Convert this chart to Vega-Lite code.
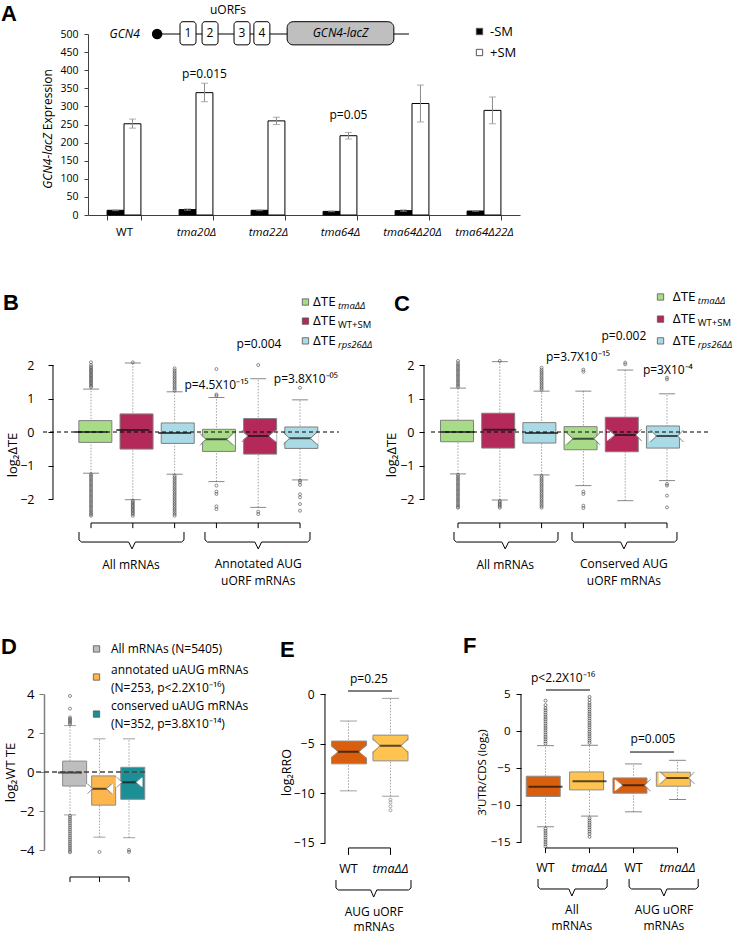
{
"$schema": "https://vega.github.io/schema/vega-lite/v6.json",
"padding": {"top": 2, "left": 0, "right": 0, "bottom": 0},
"background": "white",
"bounds": "flush",
"spacing": 150,
"resolve": {"scale": {"color": "independent"}, "legend": {"color": "independent"}},
"config": {
  "view": {"stroke": null},
  "font": "Open Sans",
  "axis": {"grid": false, "labelFont": "Open Sans", "titleFont": "Open Sans", "titleFontWeight": "normal", "labelColor": "#000", "titleColor": "#000", "domainColor": "#000", "tickColor": "#000", "labelOverlap": false},
  "text": {"font": "Open Sans", "color": "#000"}
},
"datasets": {
  "A": [
    {"strain":"WT","cond":"-SM","value":13,"lo":12,"hi":14},
    {"strain":"WT","cond":"+SM","value":252,"lo":240,"hi":265},
    {"strain":"tma20Δ","cond":"-SM","value":15,"lo":13,"hi":17},
    {"strain":"tma20Δ","cond":"+SM","value":338,"lo":313,"hi":364},
    {"strain":"tma22Δ","cond":"-SM","value":13,"lo":12,"hi":14},
    {"strain":"tma22Δ","cond":"+SM","value":260,"lo":250,"hi":270},
    {"strain":"tma64Δ","cond":"-SM","value":10,"lo":9,"hi":11},
    {"strain":"tma64Δ","cond":"+SM","value":219,"lo":210,"hi":228},
    {"strain":"tma64Δ20Δ","cond":"-SM","value":12,"lo":10,"hi":14},
    {"strain":"tma64Δ20Δ","cond":"+SM","value":308,"lo":257,"hi":359},
    {"strain":"tma64Δ22Δ","cond":"-SM","value":11,"lo":10,"hi":12},
    {"strain":"tma64Δ22Δ","cond":"+SM","value":289,"lo":252,"hi":326}
  ],
  "uorf": [
    {"feature":"1","start":21.3,"end":25.0,"mid":23.15},
    {"feature":"2","start":26.4,"end":30.1,"mid":28.25},
    {"feature":"3","start":33.8,"end":37.5,"mid":35.65},
    {"feature":"4","start":38.4,"end":42.1,"mid":40.25}
  ],
  "boxB": [
    {"x":1,"set":"tmaΔΔ","q1":-0.31,"med":0.0,"q3":0.34,"lo":-1.23,"hi":1.28,"notch":false},
    {"x":2,"set":"WT+SM","q1":-0.51,"med":0.06,"q3":0.54,"lo":-2.02,"hi":2.06,"notch":false},
    {"x":3,"set":"rps26ΔΔ","q1":-0.34,"med":-0.03,"q3":0.27,"lo":-1.26,"hi":1.2,"notch":false},
    {"x":4,"set":"tmaΔΔ","q1":-0.58,"med":-0.22,"q3":0.08,"lo":-1.48,"hi":1.03,"notch":true},
    {"x":5,"set":"WT+SM","q1":-0.66,"med":-0.12,"q3":0.40,"lo":-2.25,"hi":1.59,"notch":true},
    {"x":6,"set":"rps26ΔΔ","q1":-0.49,"med":-0.19,"q3":0.15,"lo":-1.43,"hi":0.96,"notch":true}
  ],
  "boxC": [
    {"x":1,"set":"tmaΔΔ","q1":-0.29,"med":0.0,"q3":0.35,"lo":-1.25,"hi":1.31,"notch":false},
    {"x":2,"set":"WT+SM","q1":-0.48,"med":0.07,"q3":0.56,"lo":-2.03,"hi":2.1,"notch":false},
    {"x":3,"set":"rps26ΔΔ","q1":-0.33,"med":-0.03,"q3":0.28,"lo":-1.28,"hi":1.22,"notch":false},
    {"x":4,"set":"tmaΔΔ","q1":-0.53,"med":-0.2,"q3":0.16,"lo":-1.6,"hi":1.22,"notch":true},
    {"x":5,"set":"WT+SM","q1":-0.59,"med":-0.09,"q3":0.44,"lo":-2.05,"hi":1.85,"notch":true},
    {"x":6,"set":"rps26ΔΔ","q1":-0.48,"med":-0.12,"q3":0.18,"lo":-1.45,"hi":1.14,"notch":true}
  ],
  "boxD": [
    {"x":1,"set":"All mRNAs","q1":-0.72,"med":-0.03,"q3":0.56,"lo":-2.2,"hi":2.38,"notch":false},
    {"x":2,"set":"annotated uAUG","q1":-1.7,"med":-0.86,"q3":-0.2,"lo":-3.34,"hi":1.7,"notch":true},
    {"x":3,"set":"conserved uAUG","q1":-1.4,"med":-0.53,"q3":0.24,"lo":-3.37,"hi":1.7,"notch":true}
  ],
  "boxE": [
    {"x":1,"cond":"WT","q1":-7.03,"med":-5.82,"q3":-4.74,"lo":-9.75,"hi":-2.72,"notch":true},
    {"x":2,"cond":"tmaΔΔ","q1":-6.73,"med":-5.21,"q3":-4.14,"lo":-10.29,"hi":-0.44,"notch":true}
  ],
  "boxF": [
    {"x":1,"cond":"WT","group":"All mRNAs","q1":-8.85,"med":-7.55,"q3":-6.11,"lo":-12.94,"hi":-1.98,"notch":false},
    {"x":2,"cond":"tmaΔΔ","group":"All mRNAs","q1":-7.96,"med":-6.79,"q3":-5.53,"lo":-11.5,"hi":-1.93,"notch":false},
    {"x":3,"cond":"WT","group":"AUG uORF mRNAs","q1":-8.4,"med":-7.33,"q3":-6.34,"lo":-10.92,"hi":-4.45,"notch":true},
    {"x":4,"cond":"tmaΔΔ","group":"AUG uORF mRNAs","q1":-7.46,"med":-6.34,"q3":-5.57,"lo":-9.26,"hi":-3.96,"notch":true}
  ],
  "outB": [
    {"x":1,"v":1.34},{"x":1,"v":1.38},{"x":1,"v":1.42},{"x":1,"v":1.46},{"x":1,"v":1.5},{"x":1,"v":1.54},{"x":1,"v":1.58},{"x":1,"v":1.62},{"x":1,"v":1.66},{"x":1,"v":1.7},{"x":1,"v":1.74},{"x":1,"v":1.78},{"x":1,"v":1.82},{"x":1,"v":1.86},{"x":1,"v":1.9},{"x":1,"v":1.94},{"x":1,"v":2.0},{"x":1,"v":2.08},
    {"x":1,"v":-1.26},{"x":1,"v":-1.31},{"x":1,"v":-1.36},{"x":1,"v":-1.41},{"x":1,"v":-1.46},{"x":1,"v":-1.51},{"x":1,"v":-1.56},{"x":1,"v":-1.61},{"x":1,"v":-1.66},{"x":1,"v":-1.71},{"x":1,"v":-1.76},{"x":1,"v":-1.81},{"x":1,"v":-1.86},{"x":1,"v":-1.91},{"x":1,"v":-1.96},{"x":1,"v":-2.01},{"x":1,"v":-2.06},{"x":1,"v":-2.11},{"x":1,"v":-2.16},{"x":1,"v":-2.21},{"x":1,"v":-2.26},{"x":1,"v":-2.31},{"x":1,"v":-2.36},{"x":1,"v":-2.41},{"x":1,"v":-2.46},{"x":1,"v":-2.5},
    {"x":2,"v":2.08},{"x":2,"v":-2.05},{"x":2,"v":-2.09},{"x":2,"v":-2.13},{"x":2,"v":-2.17},{"x":2,"v":-2.21},{"x":2,"v":-2.25},{"x":2,"v":-2.29},{"x":2,"v":-2.33},{"x":2,"v":-2.37},{"x":2,"v":-2.41},{"x":2,"v":-2.45},{"x":2,"v":-2.5},
    {"x":3,"v":1.24},{"x":3,"v":1.29},{"x":3,"v":1.34},{"x":3,"v":1.39},{"x":3,"v":1.44},{"x":3,"v":1.49},{"x":3,"v":1.54},{"x":3,"v":1.59},{"x":3,"v":1.64},{"x":3,"v":1.69},{"x":3,"v":1.74},{"x":3,"v":1.79},{"x":3,"v":1.84},{"x":3,"v":1.9},
    {"x":3,"v":-1.3},{"x":3,"v":-1.35},{"x":3,"v":-1.4},{"x":3,"v":-1.45},{"x":3,"v":-1.5},{"x":3,"v":-1.55},{"x":3,"v":-1.6},{"x":3,"v":-1.65},{"x":3,"v":-1.7},{"x":3,"v":-1.75},{"x":3,"v":-1.8},{"x":3,"v":-1.85},{"x":3,"v":-1.9},{"x":3,"v":-1.95},{"x":3,"v":-2.0},{"x":3,"v":-2.05},{"x":3,"v":-2.1},{"x":3,"v":-2.15},{"x":3,"v":-2.2},{"x":3,"v":-2.25},{"x":3,"v":-2.3},{"x":3,"v":-2.35},{"x":3,"v":-2.4},{"x":3,"v":-2.45},{"x":3,"v":-2.5},
    {"x":4,"v":1.88},{"x":4,"v":1.12},{"x":4,"v":1.08},{"x":4,"v":-1.6},{"x":4,"v":-1.78},{"x":4,"v":-1.85},{"x":4,"v":-2.22},{"x":4,"v":-2.3},
    {"x":5,"v":2.0},{"x":5,"v":-2.38},{"x":5,"v":-2.45},
    {"x":6,"v":1.32},{"x":6,"v":-1.45},{"x":6,"v":-1.5},{"x":6,"v":-1.58},{"x":6,"v":-1.86},{"x":6,"v":-1.95},{"x":6,"v":-2.15},{"x":6,"v":-2.35}
  ],
  "outC": [
    {"x":1,"v":1.35},{"x":1,"v":1.4},{"x":1,"v":1.45},{"x":1,"v":1.5},{"x":1,"v":1.55},{"x":1,"v":1.6},{"x":1,"v":1.65},{"x":1,"v":1.7},{"x":1,"v":1.75},{"x":1,"v":1.8},{"x":1,"v":1.85},{"x":1,"v":1.9},{"x":1,"v":1.95},{"x":1,"v":2.0},{"x":1,"v":2.05},{"x":1,"v":2.12},
    {"x":1,"v":-1.28},{"x":1,"v":-1.33},{"x":1,"v":-1.38},{"x":1,"v":-1.43},{"x":1,"v":-1.48},{"x":1,"v":-1.53},{"x":1,"v":-1.58},{"x":1,"v":-1.63},{"x":1,"v":-1.68},{"x":1,"v":-1.73},{"x":1,"v":-1.78},{"x":1,"v":-1.83},{"x":1,"v":-1.88},{"x":1,"v":-1.93},{"x":1,"v":-1.98},{"x":1,"v":-2.03},{"x":1,"v":-2.08},{"x":1,"v":-2.13},{"x":1,"v":-2.18},{"x":1,"v":-2.23},{"x":1,"v":-2.26},
    {"x":2,"v":2.12},{"x":2,"v":-2.06},{"x":2,"v":-2.1},{"x":2,"v":-2.14},{"x":2,"v":-2.18},{"x":2,"v":-2.22},{"x":2,"v":-2.26},
    {"x":3,"v":1.26},{"x":3,"v":1.31},{"x":3,"v":1.36},{"x":3,"v":1.41},{"x":3,"v":1.46},{"x":3,"v":1.51},{"x":3,"v":1.56},{"x":3,"v":1.61},{"x":3,"v":1.66},{"x":3,"v":1.71},{"x":3,"v":1.76},{"x":3,"v":1.81},{"x":3,"v":1.86},{"x":3,"v":1.92},
    {"x":3,"v":-1.31},{"x":3,"v":-1.36},{"x":3,"v":-1.41},{"x":3,"v":-1.46},{"x":3,"v":-1.51},{"x":3,"v":-1.56},{"x":3,"v":-1.61},{"x":3,"v":-1.66},{"x":3,"v":-1.71},{"x":3,"v":-1.76},{"x":3,"v":-1.81},{"x":3,"v":-1.86},{"x":3,"v":-1.91},{"x":3,"v":-1.96},{"x":3,"v":-2.01},{"x":3,"v":-2.06},{"x":3,"v":-2.11},{"x":3,"v":-2.16},{"x":3,"v":-2.21},{"x":3,"v":-2.26},
    {"x":4,"v":1.86},{"x":4,"v":1.8},{"x":4,"v":-1.78},{"x":4,"v":-1.85},{"x":4,"v":-2.2},{"x":4,"v":-2.27},
    {"x":5,"v":2.07},{"x":5,"v":2.02},
    {"x":6,"v":1.62},{"x":6,"v":1.57},{"x":6,"v":-1.55},{"x":6,"v":-1.6},{"x":6,"v":-1.9},{"x":6,"v":-2.25}
  ],
  "outD": [
    {"x":1,"v":2.45},{"x":1,"v":2.52},{"x":1,"v":2.59},{"x":1,"v":2.66},{"x":1,"v":2.73},{"x":1,"v":2.8},{"x":1,"v":3.25},{"x":1,"v":3.9},
    {"x":1,"v":-2.25},{"x":1,"v":-2.35},{"x":1,"v":-2.45},{"x":1,"v":-2.55},{"x":1,"v":-2.65},{"x":1,"v":-2.75},{"x":1,"v":-2.85},{"x":1,"v":-2.95},{"x":1,"v":-3.05},{"x":1,"v":-3.15},{"x":1,"v":-3.25},{"x":1,"v":-3.35},{"x":1,"v":-3.45},{"x":1,"v":-3.55},{"x":1,"v":-3.65},{"x":1,"v":-3.75},{"x":1,"v":-3.85},{"x":1,"v":-3.95},{"x":1,"v":-4.05},{"x":1,"v":-4.12},
    {"x":2,"v":-4.1},{"x":3,"v":-4.0},{"x":3,"v":-4.1}
  ],
  "outE": [
    {"x":2,"v":-10.63},{"x":2,"v":-10.93},{"x":2,"v":-11.3},{"x":2,"v":-11.7}
  ],
  "outF": [
    {"x":1,"v":-1.7},{"x":1,"v":-1.4},{"x":1,"v":-1.1},{"x":1,"v":-0.8},{"x":1,"v":-0.5},{"x":1,"v":-0.2},{"x":1,"v":0.1},{"x":1,"v":0.4},{"x":1,"v":0.7},{"x":1,"v":1.0},{"x":1,"v":1.3},{"x":1,"v":1.6},{"x":1,"v":1.9},{"x":1,"v":2.2},{"x":1,"v":2.5},{"x":1,"v":2.8},{"x":1,"v":3.1},{"x":1,"v":3.5},{"x":1,"v":4.1},
    {"x":1,"v":-13.2},{"x":1,"v":-13.5},{"x":1,"v":-13.8},{"x":1,"v":-14.1},{"x":1,"v":-14.4},{"x":1,"v":-14.7},{"x":1,"v":-15.0},{"x":1,"v":-15.3},{"x":1,"v":-15.6},
    {"x":2,"v":-1.6},{"x":2,"v":-1.3},{"x":2,"v":-1.0},{"x":2,"v":-0.7},{"x":2,"v":-0.4},{"x":2,"v":-0.1},{"x":2,"v":0.2},{"x":2,"v":0.5},{"x":2,"v":0.8},{"x":2,"v":1.1},{"x":2,"v":1.4},{"x":2,"v":1.7},{"x":2,"v":2.0},{"x":2,"v":2.3},{"x":2,"v":2.6},{"x":2,"v":2.9},{"x":2,"v":3.2},{"x":2,"v":3.5},{"x":2,"v":3.8},{"x":2,"v":4.2},{"x":2,"v":4.6},
    {"x":2,"v":-11.8},{"x":2,"v":-12.1},{"x":2,"v":-12.4},{"x":2,"v":-12.7},{"x":2,"v":-13.0},{"x":2,"v":-13.3},{"x":2,"v":-13.6},{"x":2,"v":-13.9},{"x":2,"v":-14.3}
  ],
  "brB": [
    {"b":1,"o":1,"x":0.712,"y":-2.985},{"b":1,"o":2,"x":0.712,"y":-3.22},{"b":1,"o":3,"x":0.77,"y":-3.284},{"b":1,"o":4,"x":1.9,"y":-3.284},{"b":1,"o":5,"x":1.98,"y":-3.49},{"b":1,"o":6,"x":2.06,"y":-3.284},{"b":1,"o":7,"x":3.166,"y":-3.284},{"b":1,"o":8,"x":3.224,"y":-3.22},{"b":1,"o":9,"x":3.224,"y":-2.985},
    {"b":2,"o":1,"x":3.726,"y":-2.985},{"b":2,"o":2,"x":3.726,"y":-3.22},{"b":2,"o":3,"x":3.784,"y":-3.284},{"b":2,"o":4,"x":4.92,"y":-3.284},{"b":2,"o":5,"x":5.0,"y":-3.49},{"b":2,"o":6,"x":5.08,"y":-3.284},{"b":2,"o":7,"x":6.18,"y":-3.284},{"b":2,"o":8,"x":6.238,"y":-3.22},{"b":2,"o":9,"x":6.238,"y":-2.985}
  ],
  "brC": [
    {"b":1,"o":1,"x":0.904,"y":-2.985},{"b":1,"o":2,"x":0.904,"y":-3.22},{"b":1,"o":3,"x":0.962,"y":-3.284},{"b":1,"o":4,"x":2.05,"y":-3.284},{"b":1,"o":5,"x":2.13,"y":-3.49},{"b":1,"o":6,"x":2.21,"y":-3.284},{"b":1,"o":7,"x":3.334,"y":-3.284},{"b":1,"o":8,"x":3.392,"y":-3.22},{"b":1,"o":9,"x":3.392,"y":-2.985},
    {"b":2,"o":1,"x":3.727,"y":-2.985},{"b":2,"o":2,"x":3.727,"y":-3.22},{"b":2,"o":3,"x":3.785,"y":-3.284},{"b":2,"o":4,"x":4.89,"y":-3.284},{"b":2,"o":5,"x":4.97,"y":-3.49},{"b":2,"o":6,"x":5.05,"y":-3.284},{"b":2,"o":7,"x":6.181,"y":-3.284},{"b":2,"o":8,"x":6.239,"y":-3.22},{"b":2,"o":9,"x":6.239,"y":-2.985}
  ],
  "brE": [
    {"b":1,"o":1,"x":0.702,"y":-18.73},{"b":1,"o":2,"x":0.702,"y":-19.53},{"b":1,"o":3,"x":0.76,"y":-19.73},{"b":1,"o":4,"x":1.527,"y":-19.73},{"b":1,"o":5,"x":1.6,"y":-20.44},{"b":1,"o":6,"x":1.673,"y":-19.73},{"b":1,"o":7,"x":2.43,"y":-19.73},{"b":1,"o":8,"x":2.488,"y":-19.53},{"b":1,"o":9,"x":2.488,"y":-18.73}
  ],
  "brF": [
    {"b":1,"o":1,"x":0.83,"y":-20.0},{"b":1,"o":2,"x":0.83,"y":-21.08},{"b":1,"o":3,"x":0.885,"y":-21.35},{"b":1,"o":4,"x":1.53,"y":-21.35},{"b":1,"o":5,"x":1.6,"y":-22.3},{"b":1,"o":6,"x":1.67,"y":-21.35},{"b":1,"o":7,"x":2.345,"y":-21.35},{"b":1,"o":8,"x":2.4,"y":-21.08},{"b":1,"o":9,"x":2.4,"y":-20.0},
    {"b":2,"o":1,"x":2.9,"y":-20.0},{"b":2,"o":2,"x":2.9,"y":-21.08},{"b":2,"o":3,"x":2.955,"y":-21.35},{"b":2,"o":4,"x":3.62,"y":-21.35},{"b":2,"o":5,"x":3.69,"y":-22.3},{"b":2,"o":6,"x":3.76,"y":-21.35},{"b":2,"o":7,"x":4.415,"y":-21.35},{"b":2,"o":8,"x":4.47,"y":-21.08},{"b":2,"o":9,"x":4.47,"y":-20.0}
  ]
},
"vconcat": [
 {"width": 690, "height": 181,
  "resolve": {"scale": {"x": "independent", "y": "independent", "xOffset": "independent"}, "axis": {"x": "independent", "y": "independent"}},
  "layer": [
   {"data": {"name": "A"}, "mark": {"type": "bar", "stroke": "#000", "strokeWidth": 1},
    "encoding": {
     "x": {"field": "strain", "type": "nominal", "scale": {"domain": ["WT","tma20Δ","tma22Δ","tma64Δ","tma64Δ20Δ","tma64Δ22Δ"], "paddingInner": 0.53, "paddingOuter": 0.265, "range": [44, 476]},
           "axis": {"title": null, "orient": "bottom", "tickBand": "extent", "tickSize": 5, "labelAngle": 0, "labelFontSize": 11.5, "labelPadding": 6, "domainColor": "#404040", "tickColor": "#404040",
                    "labelFontStyle": {"condition": {"test": "datum.value === 'WT'", "value": "normal"}, "value": "italic"}}},
     "xOffset": {"field": "cond", "type": "nominal", "scale": {"domain": ["-SM","+SM"]}},
     "y": {"field": "value", "type": "quantitative", "scale": {"domain": [0, 500], "nice": false, "zero": false},
           "axis": {"title": null, "orient": "left", "values": [0,50,100,150,200,250,300,350,400,450,500], "offset": -44, "tickSize": 4, "labelPadding": 6, "labelFontSize": 10.5, "domainColor": "#404040", "tickColor": "#404040", "labelOverlap": false}},
     "color": {"field": "cond", "type": "nominal", "scale": {"domain": ["-SM","+SM"], "range": ["#000000","#ffffff"]},
               "legend": {"title": null, "orient": "none", "legendX": 429, "legendY": -9, "padding": 0, "symbolType": "square", "symbolSize": 40, "symbolStrokeColor": "#555", "symbolStrokeWidth": 1, "labelFontSize": 13, "labelOffset": 4, "rowPadding": 7, "labelFont": "Open Sans"}}
    }},
   {"data": {"name": "A"}, "mark": {"type": "rule", "color": "#8c8c8c", "strokeWidth": 1},
    "encoding": {"x": {"field": "strain", "type": "nominal", "scale": {"domain": ["WT","tma20Δ","tma22Δ","tma64Δ","tma64Δ20Δ","tma64Δ22Δ"], "paddingInner": 0.53, "paddingOuter": 0.265, "range": [44, 476]}, "axis": null},
                 "xOffset": {"field": "cond", "type": "nominal", "scale": {"domain": ["-SM","+SM"]}},
                 "y": {"field": "lo", "type": "quantitative", "scale": {"domain": [0, 500], "nice": false, "zero": false}, "axis": null}, "y2": {"field": "hi"}}},
   {"data": {"name": "A"}, "mark": {"type": "tick", "orient": "horizontal", "size": 7, "thickness": 1, "color": "#8c8c8c"},
    "encoding": {"x": {"field": "strain", "type": "nominal", "scale": {"domain": ["WT","tma20Δ","tma22Δ","tma64Δ","tma64Δ20Δ","tma64Δ22Δ"], "paddingInner": 0.53, "paddingOuter": 0.265, "range": [44, 476]}, "axis": null},
                 "xOffset": {"field": "cond", "type": "nominal", "scale": {"domain": ["-SM","+SM"]}},
                 "y": {"field": "lo", "type": "quantitative", "scale": {"domain": [0, 500], "nice": false, "zero": false}, "axis": null}}},
   {"data": {"name": "A"}, "mark": {"type": "tick", "orient": "horizontal", "size": 7, "thickness": 1, "color": "#8c8c8c"},
    "encoding": {"x": {"field": "strain", "type": "nominal", "scale": {"domain": ["WT","tma20Δ","tma22Δ","tma64Δ","tma64Δ20Δ","tma64Δ22Δ"], "paddingInner": 0.53, "paddingOuter": 0.265, "range": [44, 476]}, "axis": null},
                 "xOffset": {"field": "cond", "type": "nominal", "scale": {"domain": ["-SM","+SM"]}},
                 "y": {"field": "hi", "type": "quantitative", "scale": {"domain": [0, 500], "nice": false, "zero": false}, "axis": null}}},
   {"data": {"values": [{}]}, "mark": {"type": "text", "text": "p=0.015", "fontSize": 12, "baseline": "middle", "dx": 8.5},
    "encoding": {"x": {"datum": "tma20Δ", "type": "nominal", "scale": {"domain": ["WT","tma20Δ","tma22Δ","tma64Δ","tma64Δ20Δ","tma64Δ22Δ"], "paddingInner": 0.53, "paddingOuter": 0.265, "range": [44, 476]}, "axis": null},
                 "y": {"datum": 389, "type": "quantitative", "scale": {"domain": [0, 500], "nice": false, "zero": false}, "axis": null}}},
   {"data": {"values": [{}]}, "mark": {"type": "text", "text": "p=0.05", "fontSize": 12, "baseline": "middle", "dx": 8.5},
    "encoding": {"x": {"datum": "tma64Δ", "type": "nominal", "scale": {"domain": ["WT","tma20Δ","tma22Δ","tma64Δ","tma64Δ20Δ","tma64Δ22Δ"], "paddingInner": 0.53, "paddingOuter": 0.265, "range": [44, 476]}, "axis": null},
                 "y": {"datum": 276, "type": "quantitative", "scale": {"domain": [0, 500], "nice": false, "zero": false}, "axis": null}}},
   {"data": {"values": [{}]}, "mark": {"type": "rule", "color": "#000", "strokeWidth": 1.2},
    "encoding": {"x": {"datum": 16, "type": "quantitative", "scale": {"domain": [0, 100], "range": [44, 476], "nice": false, "zero": false}, "axis": null}, "x2": {"datum": 74.3},
                 "y": {"datum": 500, "type": "quantitative", "scale": {"domain": [0, 500], "nice": false, "zero": false}, "axis": null}}},
   {"data": {"name": "uorf"}, "mark": {"type": "rect", "fill": "#fff", "stroke": "#000", "strokeWidth": 1, "cornerRadius": 3},
    "encoding": {"x": {"field": "start", "type": "quantitative", "scale": {"domain": [0, 100], "range": [44, 476], "nice": false, "zero": false}, "axis": null}, "x2": {"field": "end"},
                 "y": {"datum": 534, "type": "quantitative", "scale": {"domain": [0, 500], "nice": false, "zero": false}, "axis": null}, "y2": {"datum": 470}}},
   {"data": {"values": [{}]}, "mark": {"type": "rect", "fill": "#bfbfbf", "stroke": "#000", "strokeWidth": 1, "cornerRadius": 6},
    "encoding": {"x": {"datum": 46.1, "type": "quantitative", "scale": {"domain": [0, 100], "range": [44, 476], "nice": false, "zero": false}, "axis": null}, "x2": {"datum": 70.8},
                 "y": {"datum": 534, "type": "quantitative", "scale": {"domain": [0, 500], "nice": false, "zero": false}, "axis": null}, "y2": {"datum": 470}}},
   {"data": {"name": "uorf"}, "mark": {"type": "text", "fontSize": 12, "baseline": "middle", "align": "center"},
    "encoding": {"x": {"field": "mid", "type": "quantitative", "scale": {"domain": [0, 100], "range": [44, 476], "nice": false, "zero": false}, "axis": null},
                 "y": {"datum": 502, "type": "quantitative", "scale": {"domain": [0, 500], "nice": false, "zero": false}, "axis": null}, "text": {"field": "feature"}}},
   {"data": {"values": [{}]}, "mark": {"type": "text", "text": "GCN4-lacZ", "fontStyle": "italic", "fontSize": 12, "baseline": "middle", "align": "center"},
    "encoding": {"x": {"datum": 58.45, "type": "quantitative", "scale": {"domain": [0, 100], "range": [44, 476], "nice": false, "zero": false}, "axis": null},
                 "y": {"datum": 502, "type": "quantitative", "scale": {"domain": [0, 500], "nice": false, "zero": false}, "axis": null}}},
   {"data": {"values": [{}]}, "mark": {"type": "point", "shape": "circle", "size": 110, "filled": true, "color": "#000", "opacity": 1},
    "encoding": {"x": {"datum": 16, "type": "quantitative", "scale": {"domain": [0, 100], "range": [44, 476], "nice": false, "zero": false}, "axis": null},
                 "y": {"datum": 500, "type": "quantitative", "scale": {"domain": [0, 500], "nice": false, "zero": false}, "axis": null}}},
   {"data": {"values": [{}]}, "mark": {"type": "text", "text": "GCN4", "fontStyle": "italic", "fontSize": 12, "baseline": "middle", "align": "right"},
    "encoding": {"x": {"datum": 12.0, "type": "quantitative", "scale": {"domain": [0, 100], "range": [44, 476], "nice": false, "zero": false}, "axis": null},
                 "y": {"datum": 500, "type": "quantitative", "scale": {"domain": [0, 500], "nice": false, "zero": false}, "axis": null}}},
   {"data": {"values": [{}]}, "mark": {"type": "text", "text": "uORFs", "fontSize": 12, "baseline": "middle", "align": "center"},
    "encoding": {"x": {"datum": 32.4, "type": "quantitative", "scale": {"domain": [0, 100], "range": [44, 476], "nice": false, "zero": false}, "axis": null},
                 "y": {"datum": 567, "type": "quantitative", "scale": {"domain": [0, 500], "nice": false, "zero": false}, "axis": null}}},
   {"data": {"values": [{}]}, "mark": {"type": "text", "text": "A", "font": "Liberation Sans", "fontWeight": "bold", "fontSize": 22, "baseline": "middle", "align": "left"},
    "encoding": {"x": {"datum": -20.14, "type": "quantitative", "scale": {"domain": [0, 100], "range": [44, 476], "nice": false, "zero": false}, "axis": null},
                 "y": {"datum": 556, "type": "quantitative", "scale": {"domain": [0, 500], "nice": false, "zero": false}, "axis": null}}},
   {"data": {"values": [{}]}, "mark": {"type": "text", "text": "GCN4-lacZ", "fontStyle": "italic", "fontSize": 12, "baseline": "middle", "align": "right", "angle": 270},
    "encoding": {"x": {"datum": -9.26, "type": "quantitative", "scale": {"domain": [0, 100], "range": [44, 476], "nice": false, "zero": false}, "axis": null},
                 "y": {"datum": 226, "type": "quantitative", "scale": {"domain": [0, 500], "nice": false, "zero": false}, "axis": null}}},
   {"data": {"values": [{}]}, "mark": {"type": "text", "text": "Expression", "fontSize": 12, "baseline": "middle", "align": "left", "angle": 270, "dx": 3},
    "encoding": {"x": {"datum": -9.26, "type": "quantitative", "scale": {"domain": [0, 100], "range": [44, 476], "nice": false, "zero": false}, "axis": null},
                 "y": {"datum": 226, "type": "quantitative", "scale": {"domain": [0, 500], "nice": false, "zero": false}, "axis": null}}}
  ]},
 {"width": 690, "height": 179,
  "resolve": {"scale": {"x": "independent", "y": "independent", "color": "independent"}, "axis": {"x": "independent", "y": "independent"}, "legend": {"color": "independent"}},
  "layer": [
   {"data": {"name": "boxB"}, "mark": {"type": "rule", "color": "#8c8c8c", "strokeWidth": 0.8, "strokeDash": [1.5, 1.5]},
    "encoding": {"x": {"field": "x", "type": "quantitative", "scale": {"domain": [-0.125, 16.382], "nice": false, "zero": false}, "axis": null},
                 "y": {"field": "lo", "type": "quantitative", "scale": {"domain": [-3.343, 2], "nice": false, "zero": false},
                       "axis": {"orient": "left", "values": [-2,-1,0,1,2], "title": "log₂ΔTE", "titleFontSize": 13, "titlePadding": 0, "labelFontSize": 12.5, "labelPadding": 14, "tickSize": 5, "domain": false, "offset": -9, "labelOverlap": false}},
                 "y2": {"field": "hi"}}},
   {"data": {"values": [{}]}, "mark": {"type": "rule", "color": "#000", "strokeWidth": 1},
    "encoding": {"x": {"datum": 0.09, "type": "quantitative", "scale": {"domain": [-0.125, 16.382], "nice": false, "zero": false}, "axis": null},
                 "y": {"datum": -2, "type": "quantitative", "scale": {"domain": [-3.343, 2], "nice": false, "zero": false}, "axis": null}, "y2": {"datum": 2}}},
   {"data": {"name": "boxB"}, "mark": {"type": "tick", "orient": "horizontal", "size": 16, "thickness": 1, "color": "#555"},
    "encoding": {"x": {"field": "x", "type": "quantitative", "scale": {"domain": [-0.125, 16.382], "nice": false, "zero": false}, "axis": null},
                 "y": {"field": "hi", "type": "quantitative", "scale": {"domain": [-3.343, 2], "nice": false, "zero": false}, "axis": null}}},
   {"data": {"name": "boxB"}, "mark": {"type": "tick", "orient": "horizontal", "size": 16, "thickness": 1, "color": "#555"},
    "encoding": {"x": {"field": "x", "type": "quantitative", "scale": {"domain": [-0.125, 16.382], "nice": false, "zero": false}, "axis": null},
                 "y": {"field": "lo", "type": "quantitative", "scale": {"domain": [-3.343, 2], "nice": false, "zero": false}, "axis": null}}},
   {"data": {"name": "boxB"}, "mark": {"type": "bar", "width": 33, "stroke": "#7f7f7f", "strokeWidth": 1},
    "encoding": {"x": {"field": "x", "type": "quantitative", "scale": {"domain": [-0.125, 16.382], "nice": false, "zero": false}, "axis": null},
                 "y": {"field": "q1", "type": "quantitative", "scale": {"domain": [-3.343, 2], "nice": false, "zero": false}, "axis": null}, "y2": {"field": "q3"},
                 "color": {"field": "set", "type": "nominal", "scale": {"domain": ["tmaΔΔ","WT+SM","rps26ΔΔ"], "range": ["#A8DB88","#B5285A","#A9DAE6"]}, "legend": null}}},
   {"data": {"name": "boxB"}, "mark": {"type": "tick", "orient": "horizontal", "size": 33, "thickness": 2, "color": "#111"},
    "encoding": {"x": {"field": "x", "type": "quantitative", "scale": {"domain": [-0.125, 16.382], "nice": false, "zero": false}, "axis": null},
                 "y": {"field": "med", "type": "quantitative", "scale": {"domain": [-3.343, 2], "nice": false, "zero": false}, "axis": null}}},
   {"data": {"name": "boxB"}, "transform": [{"filter": "datum.notch"}], "mark": {"type": "point", "shape": "M -0.3 -1 L 1 0 L -0.3 1 Z", "size": 144, "filled": true, "color": "#fff", "strokeWidth": 0, "opacity": 1, "xOffset": -16.5},
    "encoding": {"x": {"field": "x", "type": "quantitative", "scale": {"domain": [-0.125, 16.382], "nice": false, "zero": false}, "axis": null},
                 "y": {"field": "med", "type": "quantitative", "scale": {"domain": [-3.343, 2], "nice": false, "zero": false}, "axis": null}}},
   {"data": {"name": "boxB"}, "transform": [{"filter": "datum.notch"}], "mark": {"type": "point", "shape": "M 0.3 -1 L -1 0 L 0.3 1 Z", "size": 144, "filled": true, "color": "#fff", "strokeWidth": 0, "opacity": 1, "xOffset": 16.5},
    "encoding": {"x": {"field": "x", "type": "quantitative", "scale": {"domain": [-0.125, 16.382], "nice": false, "zero": false}, "axis": null},
                 "y": {"field": "med", "type": "quantitative", "scale": {"domain": [-3.343, 2], "nice": false, "zero": false}, "axis": null}}},
   {"data": {"name": "boxB"}, "transform": [{"filter": "datum.notch"}], "mark": {"type": "point", "shape": "M 0 -1 L 1 0 L 0 1", "size": 144, "filled": false, "color": "#7f7f7f", "strokeWidth": 1, "opacity": 1, "xOffset": -16.5},
    "encoding": {"x": {"field": "x", "type": "quantitative", "scale": {"domain": [-0.125, 16.382], "nice": false, "zero": false}, "axis": null},
                 "y": {"field": "med", "type": "quantitative", "scale": {"domain": [-3.343, 2], "nice": false, "zero": false}, "axis": null}}},
   {"data": {"name": "boxB"}, "transform": [{"filter": "datum.notch"}], "mark": {"type": "point", "shape": "M 0 -1 L -1 0 L 0 1", "size": 144, "filled": false, "color": "#7f7f7f", "strokeWidth": 1, "opacity": 1, "xOffset": 16.5},
    "encoding": {"x": {"field": "x", "type": "quantitative", "scale": {"domain": [-0.125, 16.382], "nice": false, "zero": false}, "axis": null},
                 "y": {"field": "med", "type": "quantitative", "scale": {"domain": [-3.343, 2], "nice": false, "zero": false}, "axis": null}}},
   {"data": {"name": "outB"}, "mark": {"type": "point", "shape": "circle", "size": 9, "filled": false, "color": "#444", "strokeWidth": 0.6, "opacity": 1},
    "encoding": {"x": {"field": "x", "type": "quantitative", "scale": {"domain": [-0.125, 16.382], "nice": false, "zero": false}, "axis": null},
                 "y": {"field": "v", "type": "quantitative", "scale": {"domain": [-3.343, 2], "nice": false, "zero": false}, "axis": null}}},
   {"data": {"values": [{}]}, "mark": {"type": "rule", "color": "#000", "strokeWidth": 1.1, "strokeDash": [4, 3]},
    "encoding": {"x": {"datum": -0.149, "type": "quantitative", "scale": {"domain": [-0.125, 16.382], "nice": false, "zero": false}, "axis": null}, "x2": {"datum": 6.93},
                 "y": {"datum": 0, "type": "quantitative", "scale": {"domain": [-3.343, 2], "nice": false, "zero": false}, "axis": null}}},
   {"data": {"values": [{}]}, "mark": {"type": "rule", "color": "#000", "strokeWidth": 1},
    "encoding": {"x": {"datum": 1, "type": "quantitative", "scale": {"domain": [-0.125, 16.382], "nice": false, "zero": false}, "axis": null}, "x2": {"datum": 6},
                 "y": {"datum": -2.716, "type": "quantitative", "scale": {"domain": [-3.343, 2], "nice": false, "zero": false}, "axis": null}}},
   {"data": {"name": "boxB"}, "mark": {"type": "rule", "color": "#000", "strokeWidth": 1},
    "encoding": {"x": {"field": "x", "type": "quantitative", "scale": {"domain": [-0.125, 16.382], "nice": false, "zero": false}, "axis": null},
                 "y": {"datum": -2.716, "type": "quantitative", "scale": {"domain": [-3.343, 2], "nice": false, "zero": false}, "axis": null}, "y2": {"datum": -2.87}}},
   {"data": {"name": "brB"}, "mark": {"type": "line", "color": "#000", "strokeWidth": 1},
    "encoding": {"x": {"field": "x", "type": "quantitative", "scale": {"domain": [-0.125, 16.382], "nice": false, "zero": false}, "axis": null},
                 "y": {"field": "y", "type": "quantitative", "scale": {"domain": [-3.343, 2], "nice": false, "zero": false}, "axis": null}, "detail": {"field": "b"}, "order": {"field": "o"}}},
   {"data": {"values": [{}]}, "mark": {"type": "text", "text": "All mRNAs", "fontSize": 12, "baseline": "middle", "align": "center"},
    "encoding": {"x": {"datum": 1.956, "type": "quantitative", "scale": {"domain": [-0.125, 16.382], "nice": false, "zero": false}, "axis": null},
                 "y": {"datum": -3.97, "type": "quantitative", "scale": {"domain": [-3.343, 2], "nice": false, "zero": false}, "axis": null}}},
   {"data": {"values": [{}]}, "mark": {"type": "text", "text": "Annotated AUG", "fontSize": 12, "baseline": "middle", "align": "center"},
    "encoding": {"x": {"datum": 5.0, "type": "quantitative", "scale": {"domain": [-0.125, 16.382], "nice": false, "zero": false}, "axis": null},
                 "y": {"datum": -3.95, "type": "quantitative", "scale": {"domain": [-3.343, 2], "nice": false, "zero": false}, "axis": null}}},
   {"data": {"values": [{}]}, "mark": {"type": "text", "text": "uORF mRNAs", "fontSize": 12, "baseline": "middle", "align": "center"},
    "encoding": {"x": {"datum": 5.0, "type": "quantitative", "scale": {"domain": [-0.125, 16.382], "nice": false, "zero": false}, "axis": null},
                 "y": {"datum": -4.44, "type": "quantitative", "scale": {"domain": [-3.343, 2], "nice": false, "zero": false}, "axis": null}}},
   {"data": {"values": [{}]}, "mark": {"type": "text", "text": "p=4.5X10⁻¹⁵", "fontSize": 12, "baseline": "middle", "align": "center"},
    "encoding": {"x": {"datum": 4.0, "type": "quantitative", "scale": {"domain": [-0.125, 16.382], "nice": false, "zero": false}, "axis": null},
                 "y": {"datum": 1.40, "type": "quantitative", "scale": {"domain": [-3.343, 2], "nice": false, "zero": false}, "axis": null}}},
   {"data": {"values": [{}]}, "mark": {"type": "text", "text": "p=0.004", "fontSize": 12, "baseline": "middle", "align": "center"},
    "encoding": {"x": {"datum": 5.018, "type": "quantitative", "scale": {"domain": [-0.125, 16.382], "nice": false, "zero": false}, "axis": null},
                 "y": {"datum": 2.63, "type": "quantitative", "scale": {"domain": [-3.343, 2], "nice": false, "zero": false}, "axis": null}}},
   {"data": {"values": [{}]}, "mark": {"type": "text", "text": "p=3.8X10⁻⁰⁵", "fontSize": 12, "baseline": "middle", "align": "center"},
    "encoding": {"x": {"datum": 6.14, "type": "quantitative", "scale": {"domain": [-0.125, 16.382], "nice": false, "zero": false}, "axis": null},
                 "y": {"datum": 1.58, "type": "quantitative", "scale": {"domain": [-3.343, 2], "nice": false, "zero": false}, "axis": null}}},
   {"data": {"values": [{"set":"tmaΔΔ"}]}, "mark": {"type": "point", "shape": "square", "size": 40, "filled": true, "stroke": "#555", "strokeWidth": 0.8, "opacity": 1},
    "encoding": {"x": {"datum": 6.13, "type": "quantitative", "scale": {"domain": [-0.125, 16.382], "nice": false, "zero": false}, "axis": null},
                 "y": {"datum": 3.88, "type": "quantitative", "scale": {"domain": [-3.343, 2], "nice": false, "zero": false}, "axis": null},
                 "color": {"field": "set", "type": "nominal", "scale": {"domain": ["tmaΔΔ","WT+SM","rps26ΔΔ"], "range": ["#A8DB88","#B5285A","#A9DAE6"]}, "legend": null}}},
   {"data": {"values": [{"set":"WT+SM"}]}, "mark": {"type": "point", "shape": "square", "size": 40, "filled": true, "stroke": "#555", "strokeWidth": 0.8, "opacity": 1},
    "encoding": {"x": {"datum": 6.13, "type": "quantitative", "scale": {"domain": [-0.125, 16.382], "nice": false, "zero": false}, "axis": null},
                 "y": {"datum": 3.31, "type": "quantitative", "scale": {"domain": [-3.343, 2], "nice": false, "zero": false}, "axis": null},
                 "color": {"field": "set", "type": "nominal", "scale": {"domain": ["tmaΔΔ","WT+SM","rps26ΔΔ"], "range": ["#A8DB88","#B5285A","#A9DAE6"]}, "legend": null}}},
   {"data": {"values": [{"set":"rps26ΔΔ"}]}, "mark": {"type": "point", "shape": "square", "size": 40, "filled": true, "stroke": "#555", "strokeWidth": 0.8, "opacity": 1},
    "encoding": {"x": {"datum": 6.13, "type": "quantitative", "scale": {"domain": [-0.125, 16.382], "nice": false, "zero": false}, "axis": null},
                 "y": {"datum": 2.72, "type": "quantitative", "scale": {"domain": [-3.343, 2], "nice": false, "zero": false}, "axis": null},
                 "color": {"field": "set", "type": "nominal", "scale": {"domain": ["tmaΔΔ","WT+SM","rps26ΔΔ"], "range": ["#A8DB88","#B5285A","#A9DAE6"]}, "legend": null}}},
   {"data": {"values": [{}]}, "mark": {"type": "text", "text": "ΔTE", "fontSize": 13.5, "baseline": "middle", "align": "left"},
    "encoding": {"x": {"datum": 6.31, "type": "quantitative", "scale": {"domain": [-0.125, 16.382], "nice": false, "zero": false}, "axis": null},
                 "y": {"datum": 3.88, "type": "quantitative", "scale": {"domain": [-3.343, 2], "nice": false, "zero": false}, "axis": null}}},
   {"data": {"values": [{}]}, "mark": {"type": "text", "text": "ΔTE", "fontSize": 13.5, "baseline": "middle", "align": "left"},
    "encoding": {"x": {"datum": 6.31, "type": "quantitative", "scale": {"domain": [-0.125, 16.382], "nice": false, "zero": false}, "axis": null},
                 "y": {"datum": 3.31, "type": "quantitative", "scale": {"domain": [-3.343, 2], "nice": false, "zero": false}, "axis": null}}},
   {"data": {"values": [{}]}, "mark": {"type": "text", "text": "ΔTE", "fontSize": 13.5, "baseline": "middle", "align": "left"},
    "encoding": {"x": {"datum": 6.31, "type": "quantitative", "scale": {"domain": [-0.125, 16.382], "nice": false, "zero": false}, "axis": null},
                 "y": {"datum": 2.72, "type": "quantitative", "scale": {"domain": [-3.343, 2], "nice": false, "zero": false}, "axis": null}}},
   {"data": {"values": [{}]}, "mark": {"type": "text", "text": "tmaΔΔ", "fontStyle": "italic", "fontSize": 9.5, "baseline": "middle", "align": "left", "dx": 25, "dy": 4},
    "encoding": {"x": {"datum": 6.31, "type": "quantitative", "scale": {"domain": [-0.125, 16.382], "nice": false, "zero": false}, "axis": null},
                 "y": {"datum": 3.88, "type": "quantitative", "scale": {"domain": [-3.343, 2], "nice": false, "zero": false}, "axis": null}}},
   {"data": {"values": [{}]}, "mark": {"type": "text", "text": "WT+SM", "fontSize": 9.5, "baseline": "middle", "align": "left", "dx": 25, "dy": 4},
    "encoding": {"x": {"datum": 6.31, "type": "quantitative", "scale": {"domain": [-0.125, 16.382], "nice": false, "zero": false}, "axis": null},
                 "y": {"datum": 3.31, "type": "quantitative", "scale": {"domain": [-3.343, 2], "nice": false, "zero": false}, "axis": null}}},
   {"data": {"values": [{}]}, "mark": {"type": "text", "text": "rps26ΔΔ", "fontStyle": "italic", "fontSize": 9.5, "baseline": "middle", "align": "left", "dx": 25, "dy": 4},
    "encoding": {"x": {"datum": 6.31, "type": "quantitative", "scale": {"domain": [-0.125, 16.382], "nice": false, "zero": false}, "axis": null},
                 "y": {"datum": 2.72, "type": "quantitative", "scale": {"domain": [-3.343, 2], "nice": false, "zero": false}, "axis": null}}},
   {"data": {"values": [{}]}, "mark": {"type": "text", "text": "B", "font": "Liberation Sans", "fontWeight": "bold", "fontSize": 22, "baseline": "middle", "align": "left"},
    "encoding": {"x": {"datum": -1.106, "type": "quantitative", "scale": {"domain": [-0.125, 16.382], "nice": false, "zero": false}, "axis": null},
                 "y": {"datum": 3.85, "type": "quantitative", "scale": {"domain": [-3.343, 2], "nice": false, "zero": false}, "axis": null}}},

   {"data": {"name": "boxC"}, "mark": {"type": "rule", "color": "#8c8c8c", "strokeWidth": 0.8, "strokeDash": [1.5, 1.5]},
    "encoding": {"x": {"field": "x", "type": "quantitative", "scale": {"domain": [-8.904, 7.603], "nice": false, "zero": false}, "axis": null},
                 "y": {"field": "lo", "type": "quantitative", "scale": {"domain": [-3.343, 2], "nice": false, "zero": false},
                       "axis": {"orient": "left", "values": [-2,-1,0,1,2], "title": "log₂ΔTE", "titleFontSize": 13, "titlePadding": 1, "labelFontSize": 12.5, "labelPadding": 5, "tickSize": 5, "domain": false, "offset": -380, "labelOverlap": false}},
                 "y2": {"field": "hi"}}},
   {"data": {"values": [{}]}, "mark": {"type": "rule", "color": "#000", "strokeWidth": 1},
    "encoding": {"x": {"datum": 0.187, "type": "quantitative", "scale": {"domain": [-8.904, 7.603], "nice": false, "zero": false}, "axis": null},
                 "y": {"datum": -2, "type": "quantitative", "scale": {"domain": [-3.343, 2], "nice": false, "zero": false}, "axis": null}, "y2": {"datum": 2}}},
   {"data": {"name": "boxC"}, "mark": {"type": "tick", "orient": "horizontal", "size": 16, "thickness": 1, "color": "#555"},
    "encoding": {"x": {"field": "x", "type": "quantitative", "scale": {"domain": [-8.904, 7.603], "nice": false, "zero": false}, "axis": null},
                 "y": {"field": "hi", "type": "quantitative", "scale": {"domain": [-3.343, 2], "nice": false, "zero": false}, "axis": null}}},
   {"data": {"name": "boxC"}, "mark": {"type": "tick", "orient": "horizontal", "size": 16, "thickness": 1, "color": "#555"},
    "encoding": {"x": {"field": "x", "type": "quantitative", "scale": {"domain": [-8.904, 7.603], "nice": false, "zero": false}, "axis": null},
                 "y": {"field": "lo", "type": "quantitative", "scale": {"domain": [-3.343, 2], "nice": false, "zero": false}, "axis": null}}},
   {"data": {"name": "boxC"}, "mark": {"type": "bar", "width": 33, "stroke": "#7f7f7f", "strokeWidth": 1},
    "encoding": {"x": {"field": "x", "type": "quantitative", "scale": {"domain": [-8.904, 7.603], "nice": false, "zero": false}, "axis": null},
                 "y": {"field": "q1", "type": "quantitative", "scale": {"domain": [-3.343, 2], "nice": false, "zero": false}, "axis": null}, "y2": {"field": "q3"},
                 "color": {"field": "set", "type": "nominal", "scale": {"domain": ["tmaΔΔ","WT+SM","rps26ΔΔ"], "range": ["#A8DB88","#B5285A","#A9DAE6"]}, "legend": null}}},
   {"data": {"name": "boxC"}, "mark": {"type": "tick", "orient": "horizontal", "size": 33, "thickness": 2, "color": "#111"},
    "encoding": {"x": {"field": "x", "type": "quantitative", "scale": {"domain": [-8.904, 7.603], "nice": false, "zero": false}, "axis": null},
                 "y": {"field": "med", "type": "quantitative", "scale": {"domain": [-3.343, 2], "nice": false, "zero": false}, "axis": null}}},
   {"data": {"name": "boxC"}, "transform": [{"filter": "datum.notch"}], "mark": {"type": "point", "shape": "M -0.3 -1 L 1 0 L -0.3 1 Z", "size": 144, "filled": true, "color": "#fff", "strokeWidth": 0, "opacity": 1, "xOffset": -16.5},
    "encoding": {"x": {"field": "x", "type": "quantitative", "scale": {"domain": [-8.904, 7.603], "nice": false, "zero": false}, "axis": null},
                 "y": {"field": "med", "type": "quantitative", "scale": {"domain": [-3.343, 2], "nice": false, "zero": false}, "axis": null}}},
   {"data": {"name": "boxC"}, "transform": [{"filter": "datum.notch"}], "mark": {"type": "point", "shape": "M 0.3 -1 L -1 0 L 0.3 1 Z", "size": 144, "filled": true, "color": "#fff", "strokeWidth": 0, "opacity": 1, "xOffset": 16.5},
    "encoding": {"x": {"field": "x", "type": "quantitative", "scale": {"domain": [-8.904, 7.603], "nice": false, "zero": false}, "axis": null},
                 "y": {"field": "med", "type": "quantitative", "scale": {"domain": [-3.343, 2], "nice": false, "zero": false}, "axis": null}}},
   {"data": {"name": "boxC"}, "transform": [{"filter": "datum.notch"}], "mark": {"type": "point", "shape": "M 0 -1 L 1 0 L 0 1", "size": 144, "filled": false, "color": "#7f7f7f", "strokeWidth": 1, "opacity": 1, "xOffset": -16.5},
    "encoding": {"x": {"field": "x", "type": "quantitative", "scale": {"domain": [-8.904, 7.603], "nice": false, "zero": false}, "axis": null},
                 "y": {"field": "med", "type": "quantitative", "scale": {"domain": [-3.343, 2], "nice": false, "zero": false}, "axis": null}}},
   {"data": {"name": "boxC"}, "transform": [{"filter": "datum.notch"}], "mark": {"type": "point", "shape": "M 0 -1 L -1 0 L 0 1", "size": 144, "filled": false, "color": "#7f7f7f", "strokeWidth": 1, "opacity": 1, "xOffset": 16.5},
    "encoding": {"x": {"field": "x", "type": "quantitative", "scale": {"domain": [-8.904, 7.603], "nice": false, "zero": false}, "axis": null},
                 "y": {"field": "med", "type": "quantitative", "scale": {"domain": [-3.343, 2], "nice": false, "zero": false}, "axis": null}}},
   {"data": {"name": "outC"}, "mark": {"type": "point", "shape": "circle", "size": 9, "filled": false, "color": "#444", "strokeWidth": 0.6, "opacity": 1},
    "encoding": {"x": {"field": "x", "type": "quantitative", "scale": {"domain": [-8.904, 7.603], "nice": false, "zero": false}, "axis": null},
                 "y": {"field": "v", "type": "quantitative", "scale": {"domain": [-3.343, 2], "nice": false, "zero": false}, "axis": null}}},
   {"data": {"values": [{}]}, "mark": {"type": "rule", "color": "#000", "strokeWidth": 1.1, "strokeDash": [4, 3]},
    "encoding": {"x": {"datum": 0.354, "type": "quantitative", "scale": {"domain": [-8.904, 7.603], "nice": false, "zero": false}, "axis": null}, "x2": {"datum": 7.005},
                 "y": {"datum": 0, "type": "quantitative", "scale": {"domain": [-3.343, 2], "nice": false, "zero": false}, "axis": null}}},
   {"data": {"values": [{}]}, "mark": {"type": "rule", "color": "#000", "strokeWidth": 1},
    "encoding": {"x": {"datum": 1, "type": "quantitative", "scale": {"domain": [-8.904, 7.603], "nice": false, "zero": false}, "axis": null}, "x2": {"datum": 6},
                 "y": {"datum": -2.716, "type": "quantitative", "scale": {"domain": [-3.343, 2], "nice": false, "zero": false}, "axis": null}}},
   {"data": {"name": "boxC"}, "mark": {"type": "rule", "color": "#000", "strokeWidth": 1},
    "encoding": {"x": {"field": "x", "type": "quantitative", "scale": {"domain": [-8.904, 7.603], "nice": false, "zero": false}, "axis": null},
                 "y": {"datum": -2.716, "type": "quantitative", "scale": {"domain": [-3.343, 2], "nice": false, "zero": false}, "axis": null}, "y2": {"datum": -2.87}}},
   {"data": {"name": "brC"}, "mark": {"type": "line", "color": "#000", "strokeWidth": 1},
    "encoding": {"x": {"field": "x", "type": "quantitative", "scale": {"domain": [-8.904, 7.603], "nice": false, "zero": false}, "axis": null},
                 "y": {"field": "y", "type": "quantitative", "scale": {"domain": [-3.343, 2], "nice": false, "zero": false}, "axis": null}, "detail": {"field": "b"}, "order": {"field": "o"}}},
   {"data": {"values": [{}]}, "mark": {"type": "text", "text": "All mRNAs", "fontSize": 12, "baseline": "middle", "align": "center"},
    "encoding": {"x": {"datum": 2.13, "type": "quantitative", "scale": {"domain": [-8.904, 7.603], "nice": false, "zero": false}, "axis": null},
                 "y": {"datum": -3.97, "type": "quantitative", "scale": {"domain": [-3.343, 2], "nice": false, "zero": false}, "axis": null}}},
   {"data": {"values": [{}]}, "mark": {"type": "text", "text": "Conserved AUG", "fontSize": 12, "baseline": "middle", "align": "center"},
    "encoding": {"x": {"datum": 4.97, "type": "quantitative", "scale": {"domain": [-8.904, 7.603], "nice": false, "zero": false}, "axis": null},
                 "y": {"datum": -3.95, "type": "quantitative", "scale": {"domain": [-3.343, 2], "nice": false, "zero": false}, "axis": null}}},
   {"data": {"values": [{}]}, "mark": {"type": "text", "text": "uORF mRNAs", "fontSize": 12, "baseline": "middle", "align": "center"},
    "encoding": {"x": {"datum": 4.97, "type": "quantitative", "scale": {"domain": [-8.904, 7.603], "nice": false, "zero": false}, "axis": null},
                 "y": {"datum": -4.44, "type": "quantitative", "scale": {"domain": [-3.343, 2], "nice": false, "zero": false}, "axis": null}}},
   {"data": {"values": [{}]}, "mark": {"type": "text", "text": "p=3.7X10⁻¹⁵", "fontSize": 12, "baseline": "middle", "align": "center"},
    "encoding": {"x": {"datum": 3.87, "type": "quantitative", "scale": {"domain": [-8.904, 7.603], "nice": false, "zero": false}, "axis": null},
                 "y": {"datum": 2.24, "type": "quantitative", "scale": {"domain": [-3.343, 2], "nice": false, "zero": false}, "axis": null}}},
   {"data": {"values": [{}]}, "mark": {"type": "text", "text": "p=0.002", "fontSize": 12, "baseline": "middle", "align": "center"},
    "encoding": {"x": {"datum": 4.97, "type": "quantitative", "scale": {"domain": [-8.904, 7.603], "nice": false, "zero": false}, "axis": null},
                 "y": {"datum": 2.87, "type": "quantitative", "scale": {"domain": [-3.343, 2], "nice": false, "zero": false}, "axis": null}}},
   {"data": {"values": [{}]}, "mark": {"type": "text", "text": "p=3X10⁻⁴", "fontSize": 12, "baseline": "middle", "align": "center"},
    "encoding": {"x": {"datum": 6.02, "type": "quantitative", "scale": {"domain": [-8.904, 7.603], "nice": false, "zero": false}, "axis": null},
                 "y": {"datum": 1.85, "type": "quantitative", "scale": {"domain": [-3.343, 2], "nice": false, "zero": false}, "axis": null}}},
   {"data": {"values": [{"set":"tmaΔΔ"}]}, "mark": {"type": "point", "shape": "square", "size": 40, "filled": true, "stroke": "#555", "strokeWidth": 0.8, "opacity": 1},
    "encoding": {"x": {"datum": 5.845, "type": "quantitative", "scale": {"domain": [-8.904, 7.603], "nice": false, "zero": false}, "axis": null},
                 "y": {"datum": 4.03, "type": "quantitative", "scale": {"domain": [-3.343, 2], "nice": false, "zero": false}, "axis": null},
                 "color": {"field": "set", "type": "nominal", "scale": {"domain": ["tmaΔΔ","WT+SM","rps26ΔΔ"], "range": ["#A8DB88","#B5285A","#A9DAE6"]}, "legend": null}}},
   {"data": {"values": [{"set":"WT+SM"}]}, "mark": {"type": "point", "shape": "square", "size": 40, "filled": true, "stroke": "#555", "strokeWidth": 0.8, "opacity": 1},
    "encoding": {"x": {"datum": 5.845, "type": "quantitative", "scale": {"domain": [-8.904, 7.603], "nice": false, "zero": false}, "axis": null},
                 "y": {"datum": 3.37, "type": "quantitative", "scale": {"domain": [-3.343, 2], "nice": false, "zero": false}, "axis": null},
                 "color": {"field": "set", "type": "nominal", "scale": {"domain": ["tmaΔΔ","WT+SM","rps26ΔΔ"], "range": ["#A8DB88","#B5285A","#A9DAE6"]}, "legend": null}}},
   {"data": {"values": [{"set":"rps26ΔΔ"}]}, "mark": {"type": "point", "shape": "square", "size": 40, "filled": true, "stroke": "#555", "strokeWidth": 0.8, "opacity": 1},
    "encoding": {"x": {"datum": 5.845, "type": "quantitative", "scale": {"domain": [-8.904, 7.603], "nice": false, "zero": false}, "axis": null},
                 "y": {"datum": 2.72, "type": "quantitative", "scale": {"domain": [-3.343, 2], "nice": false, "zero": false}, "axis": null},
                 "color": {"field": "set", "type": "nominal", "scale": {"domain": ["tmaΔΔ","WT+SM","rps26ΔΔ"], "range": ["#A8DB88","#B5285A","#A9DAE6"]}, "legend": null}}},
   {"data": {"values": [{}]}, "mark": {"type": "text", "text": "ΔTE", "fontSize": 13.5, "baseline": "middle", "align": "left"},
    "encoding": {"x": {"datum": 6.14, "type": "quantitative", "scale": {"domain": [-8.904, 7.603], "nice": false, "zero": false}, "axis": null},
                 "y": {"datum": 4.03, "type": "quantitative", "scale": {"domain": [-3.343, 2], "nice": false, "zero": false}, "axis": null}}},
   {"data": {"values": [{}]}, "mark": {"type": "text", "text": "ΔTE", "fontSize": 13.5, "baseline": "middle", "align": "left"},
    "encoding": {"x": {"datum": 6.14, "type": "quantitative", "scale": {"domain": [-8.904, 7.603], "nice": false, "zero": false}, "axis": null},
                 "y": {"datum": 3.37, "type": "quantitative", "scale": {"domain": [-3.343, 2], "nice": false, "zero": false}, "axis": null}}},
   {"data": {"values": [{}]}, "mark": {"type": "text", "text": "ΔTE", "fontSize": 13.5, "baseline": "middle", "align": "left"},
    "encoding": {"x": {"datum": 6.14, "type": "quantitative", "scale": {"domain": [-8.904, 7.603], "nice": false, "zero": false}, "axis": null},
                 "y": {"datum": 2.72, "type": "quantitative", "scale": {"domain": [-3.343, 2], "nice": false, "zero": false}, "axis": null}}},
   {"data": {"values": [{}]}, "mark": {"type": "text", "text": "tmaΔΔ", "fontStyle": "italic", "fontSize": 9.5, "baseline": "middle", "align": "left", "dx": 25, "dy": 4},
    "encoding": {"x": {"datum": 6.14, "type": "quantitative", "scale": {"domain": [-8.904, 7.603], "nice": false, "zero": false}, "axis": null},
                 "y": {"datum": 4.03, "type": "quantitative", "scale": {"domain": [-3.343, 2], "nice": false, "zero": false}, "axis": null}}},
   {"data": {"values": [{}]}, "mark": {"type": "text", "text": "WT+SM", "fontSize": 9.5, "baseline": "middle", "align": "left", "dx": 25, "dy": 4},
    "encoding": {"x": {"datum": 6.14, "type": "quantitative", "scale": {"domain": [-8.904, 7.603], "nice": false, "zero": false}, "axis": null},
                 "y": {"datum": 3.37, "type": "quantitative", "scale": {"domain": [-3.343, 2], "nice": false, "zero": false}, "axis": null}}},
   {"data": {"values": [{}]}, "mark": {"type": "text", "text": "rps26ΔΔ", "fontStyle": "italic", "fontSize": 9.5, "baseline": "middle", "align": "left", "dx": 25, "dy": 4},
    "encoding": {"x": {"datum": 6.14, "type": "quantitative", "scale": {"domain": [-8.904, 7.603], "nice": false, "zero": false}, "axis": null},
                 "y": {"datum": 2.72, "type": "quantitative", "scale": {"domain": [-3.343, 2], "nice": false, "zero": false}, "axis": null}}},
   {"data": {"values": [{}]}, "mark": {"type": "text", "text": "C", "font": "Liberation Sans", "fontWeight": "bold", "fontSize": 22, "baseline": "middle", "align": "left"},
    "encoding": {"x": {"datum": -0.531, "type": "quantitative", "scale": {"domain": [-8.904, 7.603], "nice": false, "zero": false}, "axis": null},
                 "y": {"datum": 3.82, "type": "quantitative", "scale": {"domain": [-3.343, 2], "nice": false, "zero": false}, "axis": null}}}
  ]},
 {"width": 690, "height": 156,
  "resolve": {"scale": {"x": "independent", "y": "independent", "color": "independent"}, "axis": {"x": "independent", "y": "independent"}, "legend": {"color": "independent"}},
  "layer": [
   {"data": {"name": "boxD"}, "mark": {"type": "rule", "color": "#8c8c8c", "strokeWidth": 0.8, "strokeDash": [1.5, 1.5]},
    "encoding": {"x": {"field": "x", "type": "quantitative", "scale": {"domain": [0.119, 23.509], "nice": false, "zero": false}, "axis": null},
                 "y": {"field": "lo", "type": "quantitative", "scale": {"domain": [-4, 4], "nice": false, "zero": false},
                       "axis": {"orient": "left", "values": [-4,-2,0,2,4], "title": "log₂WT TE", "titleFontSize": 13, "titlePadding": 2, "labelFontSize": 13, "labelPadding": 5, "tickSize": 5, "domainColor": "#7f7f7f", "domainWidth": 1.5, "tickColor": "#7f7f7f", "labelOverlap": false}},
                 "y2": {"field": "hi"}}},
   {"data": {"name": "boxD"}, "mark": {"type": "tick", "orient": "horizontal", "size": 12, "thickness": 1, "color": "#777"},
    "encoding": {"x": {"field": "x", "type": "quantitative", "scale": {"domain": [0.119, 23.509], "nice": false, "zero": false}, "axis": null},
                 "y": {"field": "hi", "type": "quantitative", "scale": {"domain": [-4, 4], "nice": false, "zero": false}, "axis": null}}},
   {"data": {"name": "boxD"}, "mark": {"type": "tick", "orient": "horizontal", "size": 12, "thickness": 1, "color": "#777"},
    "encoding": {"x": {"field": "x", "type": "quantitative", "scale": {"domain": [0.119, 23.509], "nice": false, "zero": false}, "axis": null},
                 "y": {"field": "lo", "type": "quantitative", "scale": {"domain": [-4, 4], "nice": false, "zero": false}, "axis": null}}},
   {"data": {"name": "boxD"}, "mark": {"type": "bar", "width": 24, "stroke": "#8c8c8c", "strokeWidth": 1},
    "encoding": {"x": {"field": "x", "type": "quantitative", "scale": {"domain": [0.119, 23.509], "nice": false, "zero": false}, "axis": null},
                 "y": {"field": "q1", "type": "quantitative", "scale": {"domain": [-4, 4], "nice": false, "zero": false}, "axis": null}, "y2": {"field": "q3"},
                 "color": {"field": "set", "type": "nominal", "scale": {"domain": ["All mRNAs","annotated uAUG","conserved uAUG"], "range": ["#BEBEBE","#FDB64E","#1C8E96"]}, "legend": null}}},
   {"data": {"name": "boxD"}, "mark": {"type": "tick", "orient": "horizontal", "size": 24, "thickness": 2, "color": "#111"},
    "encoding": {"x": {"field": "x", "type": "quantitative", "scale": {"domain": [0.119, 23.509], "nice": false, "zero": false}, "axis": null},
                 "y": {"field": "med", "type": "quantitative", "scale": {"domain": [-4, 4], "nice": false, "zero": false}, "axis": null}}},
   {"data": {"name": "boxD"}, "transform": [{"filter": "datum.notch"}], "mark": {"type": "point", "shape": "M -0.3 -1 L 1 0 L -0.3 1 Z", "size": 100, "filled": true, "color": "#fff", "strokeWidth": 0, "opacity": 1, "xOffset": -12},
    "encoding": {"x": {"field": "x", "type": "quantitative", "scale": {"domain": [0.119, 23.509], "nice": false, "zero": false}, "axis": null},
                 "y": {"field": "med", "type": "quantitative", "scale": {"domain": [-4, 4], "nice": false, "zero": false}, "axis": null}}},
   {"data": {"name": "boxD"}, "transform": [{"filter": "datum.notch"}], "mark": {"type": "point", "shape": "M 0.3 -1 L -1 0 L 0.3 1 Z", "size": 100, "filled": true, "color": "#fff", "strokeWidth": 0, "opacity": 1, "xOffset": 12},
    "encoding": {"x": {"field": "x", "type": "quantitative", "scale": {"domain": [0.119, 23.509], "nice": false, "zero": false}, "axis": null},
                 "y": {"field": "med", "type": "quantitative", "scale": {"domain": [-4, 4], "nice": false, "zero": false}, "axis": null}}},
   {"data": {"name": "boxD"}, "transform": [{"filter": "datum.notch"}], "mark": {"type": "point", "shape": "M 0 -1 L 1 0 L 0 1", "size": 100, "filled": false, "color": "#8c8c8c", "strokeWidth": 1, "opacity": 1, "xOffset": -12},
    "encoding": {"x": {"field": "x", "type": "quantitative", "scale": {"domain": [0.119, 23.509], "nice": false, "zero": false}, "axis": null},
                 "y": {"field": "med", "type": "quantitative", "scale": {"domain": [-4, 4], "nice": false, "zero": false}, "axis": null}}},
   {"data": {"name": "boxD"}, "transform": [{"filter": "datum.notch"}], "mark": {"type": "point", "shape": "M 0 -1 L -1 0 L 0 1", "size": 100, "filled": false, "color": "#8c8c8c", "strokeWidth": 1, "opacity": 1, "xOffset": 12},
    "encoding": {"x": {"field": "x", "type": "quantitative", "scale": {"domain": [0.119, 23.509], "nice": false, "zero": false}, "axis": null},
                 "y": {"field": "med", "type": "quantitative", "scale": {"domain": [-4, 4], "nice": false, "zero": false}, "axis": null}}},
   {"data": {"name": "outD"}, "mark": {"type": "point", "shape": "circle", "size": 9, "filled": false, "color": "#444", "strokeWidth": 0.6, "opacity": 1},
    "encoding": {"x": {"field": "x", "type": "quantitative", "scale": {"domain": [0.119, 23.509], "nice": false, "zero": false}, "axis": null},
                 "y": {"field": "v", "type": "quantitative", "scale": {"domain": [-4, 4], "nice": false, "zero": false}, "axis": null}}},
   {"data": {"values": [{}]}, "mark": {"type": "rule", "color": "#444", "strokeWidth": 1.5, "strokeDash": [5, 3]},
    "encoding": {"x": {"datum": -0.152, "type": "quantitative", "scale": {"domain": [0.119, 23.509], "nice": false, "zero": false}, "axis": null}, "x2": {"datum": 3.577},
                 "y": {"datum": 0, "type": "quantitative", "scale": {"domain": [-4, 4], "nice": false, "zero": false}, "axis": null}}},
   {"data": {"values": [{}]}, "mark": {"type": "rule", "color": "#000", "strokeWidth": 1},
    "encoding": {"x": {"datum": 1, "type": "quantitative", "scale": {"domain": [0.119, 23.509], "nice": false, "zero": false}, "axis": null}, "x2": {"datum": 3},
                 "y": {"datum": -5.385, "type": "quantitative", "scale": {"domain": [-4, 4], "nice": false, "zero": false}, "axis": null}}},
   {"data": {"name": "boxD"}, "mark": {"type": "rule", "color": "#000", "strokeWidth": 1},
    "encoding": {"x": {"field": "x", "type": "quantitative", "scale": {"domain": [0.119, 23.509], "nice": false, "zero": false}, "axis": null},
                 "y": {"datum": -5.385, "type": "quantitative", "scale": {"domain": [-4, 4], "nice": false, "zero": false}, "axis": null}, "y2": {"datum": -5.64}}},
   {"data": {"values": [{"set":"All mRNAs"}]},
    "mark": {"type": "point", "shape": "square", "size": 40, "filled": true, "stroke": "#555", "strokeWidth": 0.8, "opacity": 1},
    "encoding": {"x": {"datum": 1.899, "type": "quantitative", "scale": {"domain": [0.119, 23.509], "nice": false, "zero": false}, "axis": null},
                 "y": {"datum": 6.31, "type": "quantitative", "scale": {"domain": [-4, 4], "nice": false, "zero": false}, "axis": null},
                 "color": {"field": "set", "type": "nominal", "scale": {"domain": ["All mRNAs","annotated uAUG","conserved uAUG"], "range": ["#BEBEBE","#FDB64E","#1C8E96"]}, "legend": null}}},
   {"data": {"values": [{"set":"annotated uAUG"}]},
    "mark": {"type": "point", "shape": "square", "size": 40, "filled": true, "stroke": "#555", "strokeWidth": 0.8, "opacity": 1},
    "encoding": {"x": {"datum": 1.899, "type": "quantitative", "scale": {"domain": [0.119, 23.509], "nice": false, "zero": false}, "axis": null},
                 "y": {"datum": 4.87, "type": "quantitative", "scale": {"domain": [-4, 4], "nice": false, "zero": false}, "axis": null},
                 "color": {"field": "set", "type": "nominal", "scale": {"domain": ["All mRNAs","annotated uAUG","conserved uAUG"], "range": ["#BEBEBE","#FDB64E","#1C8E96"]}, "legend": null}}},
   {"data": {"values": [{"set":"conserved uAUG"}]},
    "mark": {"type": "point", "shape": "square", "size": 40, "filled": true, "stroke": "#555", "strokeWidth": 0.8, "opacity": 1},
    "encoding": {"x": {"datum": 1.899, "type": "quantitative", "scale": {"domain": [0.119, 23.509], "nice": false, "zero": false}, "axis": null},
                 "y": {"datum": 2.97, "type": "quantitative", "scale": {"domain": [-4, 4], "nice": false, "zero": false}, "axis": null},
                 "color": {"field": "set", "type": "nominal", "scale": {"domain": ["All mRNAs","annotated uAUG","conserved uAUG"], "range": ["#BEBEBE","#FDB64E","#1C8E96"]}, "legend": null}}},
   {"data": {"values": [{}]}, "mark": {"type": "text", "text": "All mRNAs (N=5405)", "fontSize": 12, "baseline": "middle", "align": "left"},
    "encoding": {"x": {"datum": 2.39, "type": "quantitative", "scale": {"domain": [0.119, 23.509], "nice": false, "zero": false}, "axis": null},
                 "y": {"datum": 6.31, "type": "quantitative", "scale": {"domain": [-4, 4], "nice": false, "zero": false}, "axis": null}}},
   {"data": {"values": [{}]}, "mark": {"type": "text", "text": "annotated uAUG mRNAs", "fontSize": 12, "baseline": "middle", "align": "left"},
    "encoding": {"x": {"datum": 2.39, "type": "quantitative", "scale": {"domain": [0.119, 23.509], "nice": false, "zero": false}, "axis": null},
                 "y": {"datum": 5.23, "type": "quantitative", "scale": {"domain": [-4, 4], "nice": false, "zero": false}, "axis": null}}},
   {"data": {"values": [{}]}, "mark": {"type": "text", "text": "(N=253, p<2.2X10⁻¹⁶)", "fontSize": 12, "baseline": "middle", "align": "left"},
    "encoding": {"x": {"datum": 2.39, "type": "quantitative", "scale": {"domain": [0.119, 23.509], "nice": false, "zero": false}, "axis": null},
                 "y": {"datum": 4.31, "type": "quantitative", "scale": {"domain": [-4, 4], "nice": false, "zero": false}, "axis": null}}},
   {"data": {"values": [{}]}, "mark": {"type": "text", "text": "conserved uAUG mRNAs", "fontSize": 12, "baseline": "middle", "align": "left"},
    "encoding": {"x": {"datum": 2.39, "type": "quantitative", "scale": {"domain": [0.119, 23.509], "nice": false, "zero": false}, "axis": null},
                 "y": {"datum": 3.38, "type": "quantitative", "scale": {"domain": [-4, 4], "nice": false, "zero": false}, "axis": null}}},
   {"data": {"values": [{}]}, "mark": {"type": "text", "text": "(N=352, p=3.8X10⁻¹⁴)", "fontSize": 12, "baseline": "middle", "align": "left"},
    "encoding": {"x": {"datum": 2.39, "type": "quantitative", "scale": {"domain": [0.119, 23.509], "nice": false, "zero": false}, "axis": null},
                 "y": {"datum": 2.46, "type": "quantitative", "scale": {"domain": [-4, 4], "nice": false, "zero": false}, "axis": null}}},
   {"data": {"values": [{}]}, "mark": {"type": "text", "text": "D", "font": "Liberation Sans", "fontWeight": "bold", "fontSize": 22, "baseline": "middle", "align": "left"},
    "encoding": {"x": {"datum": -1.339, "type": "quantitative", "scale": {"domain": [0.119, 23.509], "nice": false, "zero": false}, "axis": null},
                 "y": {"datum": 6.41, "type": "quantitative", "scale": {"domain": [-4, 4], "nice": false, "zero": false}, "axis": null}}},

   {"data": {"name": "boxE"}, "mark": {"type": "rule", "color": "#8c8c8c", "strokeWidth": 0.8, "strokeDash": [1.5, 1.5]},
    "encoding": {"x": {"field": "x", "type": "quantitative", "scale": {"domain": [-6.25, 10.179], "nice": false, "zero": false}, "axis": null},
                 "y": {"field": "lo", "type": "quantitative", "scale": {"domain": [-15.705, 0], "nice": false, "zero": false},
                       "axis": {"orient": "left", "values": [-15,-10,-5,0], "title": "log₂RRO", "titleFontSize": 12.5, "titlePadding": 0, "labelFontSize": 12, "labelPadding": 6, "tickSize": 5, "domain": false, "offset": -281, "labelOverlap": false}},
                 "y2": {"field": "hi"}}},
   {"data": {"values": [{}]}, "mark": {"type": "rule", "color": "#000", "strokeWidth": 1},
    "encoding": {"x": {"datum": 0.44, "type": "quantitative", "scale": {"domain": [-6.25, 10.179], "nice": false, "zero": false}, "axis": null},
                 "y": {"datum": -15, "type": "quantitative", "scale": {"domain": [-15.705, 0], "nice": false, "zero": false}, "axis": null}, "y2": {"datum": 0}}},
   {"data": {"name": "boxE"}, "mark": {"type": "tick", "orient": "horizontal", "size": 17, "thickness": 1, "color": "#777"},
    "encoding": {"x": {"field": "x", "type": "quantitative", "scale": {"domain": [-6.25, 10.179], "nice": false, "zero": false}, "axis": null},
                 "y": {"field": "hi", "type": "quantitative", "scale": {"domain": [-15.705, 0], "nice": false, "zero": false}, "axis": null}}},
   {"data": {"name": "boxE"}, "mark": {"type": "tick", "orient": "horizontal", "size": 17, "thickness": 1, "color": "#777"},
    "encoding": {"x": {"field": "x", "type": "quantitative", "scale": {"domain": [-6.25, 10.179], "nice": false, "zero": false}, "axis": null},
                 "y": {"field": "lo", "type": "quantitative", "scale": {"domain": [-15.705, 0], "nice": false, "zero": false}, "axis": null}}},
   {"data": {"name": "boxE"}, "mark": {"type": "bar", "width": 35, "stroke": "#8c8c8c", "strokeWidth": 1},
    "encoding": {"x": {"field": "x", "type": "quantitative", "scale": {"domain": [-6.25, 10.179], "nice": false, "zero": false}, "axis": null},
                 "y": {"field": "q1", "type": "quantitative", "scale": {"domain": [-15.705, 0], "nice": false, "zero": false}, "axis": null}, "y2": {"field": "q3"},
                 "color": {"field": "cond", "type": "nominal", "scale": {"domain": ["WT","tmaΔΔ"], "range": ["#D95F0E","#FEC44F"]}, "legend": null}}},
   {"data": {"name": "boxE"}, "mark": {"type": "tick", "orient": "horizontal", "size": 35, "thickness": 2, "color": "#111"},
    "encoding": {"x": {"field": "x", "type": "quantitative", "scale": {"domain": [-6.25, 10.179], "nice": false, "zero": false}, "axis": null},
                 "y": {"field": "med", "type": "quantitative", "scale": {"domain": [-15.705, 0], "nice": false, "zero": false}, "axis": null}}},
   {"data": {"name": "boxE"}, "transform": [{"filter": "datum.notch"}], "mark": {"type": "point", "shape": "M -0.3 -1 L 1 0 L -0.3 1 Z", "size": 196, "filled": true, "color": "#fff", "strokeWidth": 0, "opacity": 1, "xOffset": -17.5},
    "encoding": {"x": {"field": "x", "type": "quantitative", "scale": {"domain": [-6.25, 10.179], "nice": false, "zero": false}, "axis": null},
                 "y": {"field": "med", "type": "quantitative", "scale": {"domain": [-15.705, 0], "nice": false, "zero": false}, "axis": null}}},
   {"data": {"name": "boxE"}, "transform": [{"filter": "datum.notch"}], "mark": {"type": "point", "shape": "M 0.3 -1 L -1 0 L 0.3 1 Z", "size": 196, "filled": true, "color": "#fff", "strokeWidth": 0, "opacity": 1, "xOffset": 17.5},
    "encoding": {"x": {"field": "x", "type": "quantitative", "scale": {"domain": [-6.25, 10.179], "nice": false, "zero": false}, "axis": null},
                 "y": {"field": "med", "type": "quantitative", "scale": {"domain": [-15.705, 0], "nice": false, "zero": false}, "axis": null}}},
   {"data": {"name": "boxE"}, "transform": [{"filter": "datum.notch"}], "mark": {"type": "point", "shape": "M 0 -1 L 1 0 L 0 1", "size": 196, "filled": false, "color": "#8c8c8c", "strokeWidth": 1, "opacity": 1, "xOffset": -17.5},
    "encoding": {"x": {"field": "x", "type": "quantitative", "scale": {"domain": [-6.25, 10.179], "nice": false, "zero": false}, "axis": null},
                 "y": {"field": "med", "type": "quantitative", "scale": {"domain": [-15.705, 0], "nice": false, "zero": false}, "axis": null}}},
   {"data": {"name": "boxE"}, "transform": [{"filter": "datum.notch"}], "mark": {"type": "point", "shape": "M 0 -1 L -1 0 L 0 1", "size": 196, "filled": false, "color": "#8c8c8c", "strokeWidth": 1, "opacity": 1, "xOffset": 17.5},
    "encoding": {"x": {"field": "x", "type": "quantitative", "scale": {"domain": [-6.25, 10.179], "nice": false, "zero": false}, "axis": null},
                 "y": {"field": "med", "type": "quantitative", "scale": {"domain": [-15.705, 0], "nice": false, "zero": false}, "axis": null}}},
   {"data": {"name": "outE"}, "mark": {"type": "point", "shape": "circle", "size": 9, "filled": false, "color": "#777", "strokeWidth": 0.6, "opacity": 1},
    "encoding": {"x": {"field": "x", "type": "quantitative", "scale": {"domain": [-6.25, 10.179], "nice": false, "zero": false}, "axis": null},
                 "y": {"field": "v", "type": "quantitative", "scale": {"domain": [-15.705, 0], "nice": false, "zero": false}, "axis": null}}},
   {"data": {"values": [{}]}, "mark": {"type": "rule", "color": "#000", "strokeWidth": 1},
    "encoding": {"x": {"datum": 0.988, "type": "quantitative", "scale": {"domain": [-6.25, 10.179], "nice": false, "zero": false}, "axis": null}, "x2": {"datum": 2.036},
                 "y": {"datum": 0.302, "type": "quantitative", "scale": {"domain": [-15.705, 0], "nice": false, "zero": false}, "axis": null}}},
   {"data": {"values": [{}]}, "mark": {"type": "text", "text": "p=0.25", "fontSize": 12, "baseline": "middle", "align": "center"},
    "encoding": {"x": {"datum": 1.488, "type": "quantitative", "scale": {"domain": [-6.25, 10.179], "nice": false, "zero": false}, "axis": null},
                 "y": {"datum": 1.51, "type": "quantitative", "scale": {"domain": [-15.705, 0], "nice": false, "zero": false}, "axis": null}}},
   {"data": {"values": [{}]}, "mark": {"type": "rule", "color": "#000", "strokeWidth": 1},
    "encoding": {"x": {"datum": 1, "type": "quantitative", "scale": {"domain": [-6.25, 10.179], "nice": false, "zero": false}, "axis": null}, "x2": {"datum": 2},
                 "y": {"datum": -15.5, "type": "quantitative", "scale": {"domain": [-15.705, 0], "nice": false, "zero": false}, "axis": null}}},
   {"data": {"name": "boxE"}, "mark": {"type": "rule", "color": "#000", "strokeWidth": 1},
    "encoding": {"x": {"field": "x", "type": "quantitative", "scale": {"domain": [-6.25, 10.179], "nice": false, "zero": false}, "axis": null},
                 "y": {"datum": -15.5, "type": "quantitative", "scale": {"domain": [-15.705, 0], "nice": false, "zero": false}, "axis": null}, "y2": {"datum": -16.2}}},
   {"data": {"name": "boxE"}, "transform": [{"filter": "datum.cond === 'WT'"}], "mark": {"type": "text", "fontSize": 12.5, "baseline": "middle", "align": "center"},
    "encoding": {"x": {"field": "x", "type": "quantitative", "scale": {"domain": [-6.25, 10.179], "nice": false, "zero": false}, "axis": null},
                 "y": {"datum": -17.6, "type": "quantitative", "scale": {"domain": [-15.705, 0], "nice": false, "zero": false}, "axis": null}, "text": {"field": "cond"}}},
   {"data": {"name": "boxE"}, "transform": [{"filter": "datum.cond !== 'WT'"}], "mark": {"type": "text", "fontSize": 12.5, "fontStyle": "italic", "baseline": "middle", "align": "center"},
    "encoding": {"x": {"field": "x", "type": "quantitative", "scale": {"domain": [-6.25, 10.179], "nice": false, "zero": false}, "axis": null},
                 "y": {"datum": -17.6, "type": "quantitative", "scale": {"domain": [-15.705, 0], "nice": false, "zero": false}, "axis": null}, "text": {"field": "cond"}}},
   {"data": {"name": "brE"}, "mark": {"type": "line", "color": "#000", "strokeWidth": 1},
    "encoding": {"x": {"field": "x", "type": "quantitative", "scale": {"domain": [-6.25, 10.179], "nice": false, "zero": false}, "axis": null},
                 "y": {"field": "y", "type": "quantitative", "scale": {"domain": [-15.705, 0], "nice": false, "zero": false}, "axis": null}, "detail": {"field": "b"}, "order": {"field": "o"}}},
   {"data": {"values": [{}]}, "mark": {"type": "text", "text": "AUG uORF", "fontSize": 12, "baseline": "middle", "align": "center"},
    "encoding": {"x": {"datum": 1.607, "type": "quantitative", "scale": {"domain": [-6.25, 10.179], "nice": false, "zero": false}, "axis": null},
                 "y": {"datum": -21.9, "type": "quantitative", "scale": {"domain": [-15.705, 0], "nice": false, "zero": false}, "axis": null}}},
   {"data": {"values": [{}]}, "mark": {"type": "text", "text": "mRNAs", "fontSize": 12, "baseline": "middle", "align": "center"},
    "encoding": {"x": {"datum": 1.607, "type": "quantitative", "scale": {"domain": [-6.25, 10.179], "nice": false, "zero": false}, "axis": null},
                 "y": {"datum": -23.5, "type": "quantitative", "scale": {"domain": [-15.705, 0], "nice": false, "zero": false}, "axis": null}}},
   {"data": {"values": [{}]}, "mark": {"type": "text", "text": "E", "font": "Liberation Sans", "fontWeight": "bold", "fontSize": 22, "baseline": "middle", "align": "left"},
    "encoding": {"x": {"datum": -0.631, "type": "quantitative", "scale": {"domain": [-6.25, 10.179], "nice": false, "zero": false}, "axis": null},
                 "y": {"datum": 4.43, "type": "quantitative", "scale": {"domain": [-15.705, 0], "nice": false, "zero": false}, "axis": null}}},

   {"data": {"name": "boxF"}, "mark": {"type": "rule", "color": "#8c8c8c", "strokeWidth": 0.8, "strokeDash": [1.5, 1.5]},
    "encoding": {"x": {"field": "x", "type": "quantitative", "scale": {"domain": [-10.398, 5.284], "nice": false, "zero": false}, "axis": null},
                 "y": {"field": "lo", "type": "quantitative", "scale": {"domain": [-16.081, 5], "nice": false, "zero": false},
                       "axis": {"orient": "left", "values": [-15,-10,-5,0,5], "title": "3’UTR/CDS (log₂)", "titleFontSize": 11.5, "titlePadding": 3, "labelFontSize": 11.5, "labelPadding": 6, "tickSize": 5, "domain": false, "offset": -477, "labelOverlap": false}},
                 "y2": {"field": "hi"}}},
   {"data": {"values": [{}]}, "mark": {"type": "rule", "color": "#000", "strokeWidth": 1},
    "encoding": {"x": {"datum": 0.443, "type": "quantitative", "scale": {"domain": [-10.398, 5.284], "nice": false, "zero": false}, "axis": null},
                 "y": {"datum": -15, "type": "quantitative", "scale": {"domain": [-16.081, 5], "nice": false, "zero": false}, "axis": null}, "y2": {"datum": 5}}},
   {"data": {"name": "boxF"}, "mark": {"type": "tick", "orient": "horizontal", "size": 17, "thickness": 1, "color": "#555"},
    "encoding": {"x": {"field": "x", "type": "quantitative", "scale": {"domain": [-10.398, 5.284], "nice": false, "zero": false}, "axis": null},
                 "y": {"field": "hi", "type": "quantitative", "scale": {"domain": [-16.081, 5], "nice": false, "zero": false}, "axis": null}}},
   {"data": {"name": "boxF"}, "mark": {"type": "tick", "orient": "horizontal", "size": 17, "thickness": 1, "color": "#555"},
    "encoding": {"x": {"field": "x", "type": "quantitative", "scale": {"domain": [-10.398, 5.284], "nice": false, "zero": false}, "axis": null},
                 "y": {"field": "lo", "type": "quantitative", "scale": {"domain": [-16.081, 5], "nice": false, "zero": false}, "axis": null}}},
   {"data": {"name": "boxF"}, "mark": {"type": "bar", "width": 34, "stroke": "#8c8c8c", "strokeWidth": 1},
    "encoding": {"x": {"field": "x", "type": "quantitative", "scale": {"domain": [-10.398, 5.284], "nice": false, "zero": false}, "axis": null},
                 "y": {"field": "q1", "type": "quantitative", "scale": {"domain": [-16.081, 5], "nice": false, "zero": false}, "axis": null}, "y2": {"field": "q3"},
                 "color": {"field": "cond", "type": "nominal", "scale": {"domain": ["WT","tmaΔΔ"], "range": ["#D95F0E","#FEC44F"]}, "legend": null}}},
   {"data": {"name": "boxF"}, "mark": {"type": "tick", "orient": "horizontal", "size": 34, "thickness": 2, "color": "#111"},
    "encoding": {"x": {"field": "x", "type": "quantitative", "scale": {"domain": [-10.398, 5.284], "nice": false, "zero": false}, "axis": null},
                 "y": {"field": "med", "type": "quantitative", "scale": {"domain": [-16.081, 5], "nice": false, "zero": false}, "axis": null}}},
   {"data": {"name": "boxF"}, "transform": [{"filter": "datum.notch"}], "mark": {"type": "point", "shape": "M -0.3 -1 L 1 0 L -0.3 1 Z", "size": 144, "filled": true, "color": "#fff", "strokeWidth": 0, "opacity": 1, "xOffset": -17},
    "encoding": {"x": {"field": "x", "type": "quantitative", "scale": {"domain": [-10.398, 5.284], "nice": false, "zero": false}, "axis": null},
                 "y": {"field": "med", "type": "quantitative", "scale": {"domain": [-16.081, 5], "nice": false, "zero": false}, "axis": null}}},
   {"data": {"name": "boxF"}, "transform": [{"filter": "datum.notch"}], "mark": {"type": "point", "shape": "M 0.3 -1 L -1 0 L 0.3 1 Z", "size": 144, "filled": true, "color": "#fff", "strokeWidth": 0, "opacity": 1, "xOffset": 17},
    "encoding": {"x": {"field": "x", "type": "quantitative", "scale": {"domain": [-10.398, 5.284], "nice": false, "zero": false}, "axis": null},
                 "y": {"field": "med", "type": "quantitative", "scale": {"domain": [-16.081, 5], "nice": false, "zero": false}, "axis": null}}},
   {"data": {"name": "boxF"}, "transform": [{"filter": "datum.notch"}], "mark": {"type": "point", "shape": "M 0 -1 L 1 0 L 0 1", "size": 144, "filled": false, "color": "#8c8c8c", "strokeWidth": 1, "opacity": 1, "xOffset": -17},
    "encoding": {"x": {"field": "x", "type": "quantitative", "scale": {"domain": [-10.398, 5.284], "nice": false, "zero": false}, "axis": null},
                 "y": {"field": "med", "type": "quantitative", "scale": {"domain": [-16.081, 5], "nice": false, "zero": false}, "axis": null}}},
   {"data": {"name": "boxF"}, "transform": [{"filter": "datum.notch"}], "mark": {"type": "point", "shape": "M 0 -1 L -1 0 L 0 1", "size": 144, "filled": false, "color": "#8c8c8c", "strokeWidth": 1, "opacity": 1, "xOffset": 17},
    "encoding": {"x": {"field": "x", "type": "quantitative", "scale": {"domain": [-10.398, 5.284], "nice": false, "zero": false}, "axis": null},
                 "y": {"field": "med", "type": "quantitative", "scale": {"domain": [-16.081, 5], "nice": false, "zero": false}, "axis": null}}},
   {"data": {"name": "outF"}, "mark": {"type": "point", "shape": "circle", "size": 9, "filled": false, "color": "#333", "strokeWidth": 0.6, "opacity": 1},
    "encoding": {"x": {"field": "x", "type": "quantitative", "scale": {"domain": [-10.398, 5.284], "nice": false, "zero": false}, "axis": null},
                 "y": {"field": "v", "type": "quantitative", "scale": {"domain": [-16.081, 5], "nice": false, "zero": false}, "axis": null}}},
   {"data": {"values": [{}]}, "mark": {"type": "rule", "color": "#000", "strokeWidth": 1},
    "encoding": {"x": {"datum": 1.011, "type": "quantitative", "scale": {"domain": [-10.398, 5.284], "nice": false, "zero": false}, "axis": null}, "x2": {"datum": 2.011},
                 "y": {"datum": 5.54, "type": "quantitative", "scale": {"domain": [-16.081, 5], "nice": false, "zero": false}, "axis": null}}},
   {"data": {"values": [{}]}, "mark": {"type": "text", "text": "p<2.2X10⁻¹⁶", "fontSize": 12, "baseline": "middle", "align": "center"},
    "encoding": {"x": {"datum": 1.398, "type": "quantitative", "scale": {"domain": [-10.398, 5.284], "nice": false, "zero": false}, "axis": null},
                 "y": {"datum": 7.16, "type": "quantitative", "scale": {"domain": [-16.081, 5], "nice": false, "zero": false}, "axis": null}}},
   {"data": {"values": [{}]}, "mark": {"type": "rule", "color": "#000", "strokeWidth": 1},
    "encoding": {"x": {"datum": 2.92, "type": "quantitative", "scale": {"domain": [-10.398, 5.284], "nice": false, "zero": false}, "axis": null}, "x2": {"datum": 3.92},
                 "y": {"datum": -2.84, "type": "quantitative", "scale": {"domain": [-16.081, 5], "nice": false, "zero": false}, "axis": null}}},
   {"data": {"values": [{}]}, "mark": {"type": "text", "text": "p=0.005", "fontSize": 12, "baseline": "middle", "align": "center"},
    "encoding": {"x": {"datum": 3.443, "type": "quantitative", "scale": {"domain": [-10.398, 5.284], "nice": false, "zero": false}, "axis": null},
                 "y": {"datum": -1.08, "type": "quantitative", "scale": {"domain": [-16.081, 5], "nice": false, "zero": false}, "axis": null}}},
   {"data": {"values": [{}]}, "mark": {"type": "rule", "color": "#000", "strokeWidth": 1},
    "encoding": {"x": {"datum": 1, "type": "quantitative", "scale": {"domain": [-10.398, 5.284], "nice": false, "zero": false}, "axis": null}, "x2": {"datum": 4},
                 "y": {"datum": -15.81, "type": "quantitative", "scale": {"domain": [-16.081, 5], "nice": false, "zero": false}, "axis": null}}},
   {"data": {"name": "boxF"}, "mark": {"type": "rule", "color": "#000", "strokeWidth": 1},
    "encoding": {"x": {"field": "x", "type": "quantitative", "scale": {"domain": [-10.398, 5.284], "nice": false, "zero": false}, "axis": null},
                 "y": {"datum": -15.81, "type": "quantitative", "scale": {"domain": [-16.081, 5], "nice": false, "zero": false}, "axis": null}, "y2": {"datum": -16.5}}},
   {"data": {"name": "boxF"}, "transform": [{"filter": "datum.cond === 'WT'"}], "mark": {"type": "text", "fontSize": 12.5, "baseline": "middle", "align": "center"},
    "encoding": {"x": {"field": "x", "type": "quantitative", "scale": {"domain": [-10.398, 5.284], "nice": false, "zero": false}, "axis": null},
                 "y": {"datum": -18.5, "type": "quantitative", "scale": {"domain": [-16.081, 5], "nice": false, "zero": false}, "axis": null}, "text": {"field": "cond"}}},
   {"data": {"name": "boxF"}, "transform": [{"filter": "datum.cond !== 'WT'"}], "mark": {"type": "text", "fontSize": 12.5, "fontStyle": "italic", "baseline": "middle", "align": "center"},
    "encoding": {"x": {"field": "x", "type": "quantitative", "scale": {"domain": [-10.398, 5.284], "nice": false, "zero": false}, "axis": null},
                 "y": {"datum": -18.5, "type": "quantitative", "scale": {"domain": [-16.081, 5], "nice": false, "zero": false}, "axis": null}, "text": {"field": "cond"}}},
   {"data": {"name": "brF"}, "mark": {"type": "line", "color": "#000", "strokeWidth": 1},
    "encoding": {"x": {"field": "x", "type": "quantitative", "scale": {"domain": [-10.398, 5.284], "nice": false, "zero": false}, "axis": null},
                 "y": {"field": "y", "type": "quantitative", "scale": {"domain": [-16.081, 5], "nice": false, "zero": false}, "axis": null}, "detail": {"field": "b"}, "order": {"field": "o"}}},
   {"data": {"values": [{}]}, "mark": {"type": "text", "text": "All", "fontSize": 12, "baseline": "middle", "align": "center"},
    "encoding": {"x": {"datum": 1.6, "type": "quantitative", "scale": {"domain": [-10.398, 5.284], "nice": false, "zero": false}, "axis": null},
                 "y": {"datum": -24.25, "type": "quantitative", "scale": {"domain": [-16.081, 5], "nice": false, "zero": false}, "axis": null}}},
   {"data": {"values": [{}]}, "mark": {"type": "text", "text": "mRNAs", "fontSize": 12, "baseline": "middle", "align": "center"},
    "encoding": {"x": {"datum": 1.6, "type": "quantitative", "scale": {"domain": [-10.398, 5.284], "nice": false, "zero": false}, "axis": null},
                 "y": {"datum": -26.4, "type": "quantitative", "scale": {"domain": [-16.081, 5], "nice": false, "zero": false}, "axis": null}}},
   {"data": {"values": [{}]}, "mark": {"type": "text", "text": "AUG uORF", "fontSize": 12, "baseline": "middle", "align": "center"},
    "encoding": {"x": {"datum": 3.69, "type": "quantitative", "scale": {"domain": [-10.398, 5.284], "nice": false, "zero": false}, "axis": null},
                 "y": {"datum": -24.25, "type": "quantitative", "scale": {"domain": [-16.081, 5], "nice": false, "zero": false}, "axis": null}}},
   {"data": {"values": [{}]}, "mark": {"type": "text", "text": "mRNAs", "fontSize": 12, "baseline": "middle", "align": "center"},
    "encoding": {"x": {"datum": 3.69, "type": "quantitative", "scale": {"domain": [-10.398, 5.284], "nice": false, "zero": false}, "axis": null},
                 "y": {"datum": -26.4, "type": "quantitative", "scale": {"domain": [-16.081, 5], "nice": false, "zero": false}, "axis": null}}},
   {"data": {"values": [{}]}, "mark": {"type": "text", "text": "F", "font": "Liberation Sans", "fontWeight": "bold", "fontSize": 22, "baseline": "middle", "align": "left"},
    "encoding": {"x": {"datum": -0.875, "type": "quantitative", "scale": {"domain": [-10.398, 5.284], "nice": false, "zero": false}, "axis": null},
                 "y": {"datum": 11.49, "type": "quantitative", "scale": {"domain": [-16.081, 5], "nice": false, "zero": false}, "axis": null}}}
  ]}
]
}
